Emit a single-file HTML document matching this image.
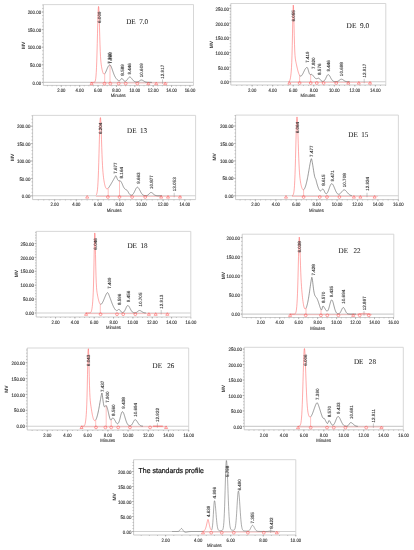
<!DOCTYPE html>
<html><head><meta charset="utf-8"><style>
html,body{margin:0;padding:0;background:#fff;}
body{width:414px;height:550px;overflow:hidden;}
svg{display:block;filter:blur(0.3px);text-rendering:geometricPrecision;}
.tk{font-family:"Liberation Sans", sans-serif;font-size:5.0px;fill:#333;stroke:#333;stroke-width:0.13px;}
.mv{font-family:"Liberation Sans", sans-serif;font-size:4.8px;fill:#3a3a3a;font-weight:bold;}
.mn{font-family:"Liberation Sans", sans-serif;font-size:4.8px;fill:#333;stroke:#333;stroke-width:0.1px;}
.pl{font-family:"Liberation Sans", sans-serif;font-size:4.55px;fill:#2a2a2a;stroke:#2a2a2a;stroke-width:0.1px;}
.de{font-family:"Liberation Serif", serif;fill:#1a1a1a;stroke:#1a1a1a;stroke-width:0.05px;}
.sp{font-family:"Liberation Sans", sans-serif;fill:#111;stroke:#111;stroke-width:0.2px;}
</style></head><body>
<svg xmlns="http://www.w3.org/2000/svg" width="414" height="550" viewBox="0 0 414 550">
<rect width="414" height="550" fill="#fff"/>
<path d="M43.3,4.6 L193.5,4.6 L193.5,85.4" fill="none" stroke="#d2d2d2" stroke-width="0.9"/>
<path d="M43.3,4.6 L43.3,85.4 L193.5,85.4" fill="none" stroke="#bdbdbd" stroke-width="0.8"/>
<line x1="43.3" y1="82.4" x2="193.5" y2="82.4" stroke="#d0d0d0" stroke-width="1.1"/>
<line x1="41.699999999999996" y1="82.40" x2="43.3" y2="82.40" stroke="#999" stroke-width="0.6"/>
<text transform="translate(41.10,84.50) scale(0.88,1)" text-anchor="end" class="tk">0.00</text>
<line x1="41.699999999999996" y1="64.80" x2="43.3" y2="64.80" stroke="#999" stroke-width="0.6"/>
<text transform="translate(41.10,66.90) scale(0.88,1)" text-anchor="end" class="tk">50.00</text>
<line x1="41.699999999999996" y1="47.20" x2="43.3" y2="47.20" stroke="#999" stroke-width="0.6"/>
<text transform="translate(41.10,49.30) scale(0.88,1)" text-anchor="end" class="tk">100.00</text>
<line x1="41.699999999999996" y1="29.60" x2="43.3" y2="29.60" stroke="#999" stroke-width="0.6"/>
<text transform="translate(41.10,31.70) scale(0.88,1)" text-anchor="end" class="tk">150.00</text>
<line x1="41.699999999999996" y1="12.00" x2="43.3" y2="12.00" stroke="#999" stroke-width="0.6"/>
<text transform="translate(41.10,14.10) scale(0.88,1)" text-anchor="end" class="tk">200.00</text>
<line x1="42.199999999999996" y1="82.40" x2="43.3" y2="82.40" stroke="#999" stroke-width="0.55"/>
<line x1="42.199999999999996" y1="78.88" x2="43.3" y2="78.88" stroke="#999" stroke-width="0.55"/>
<line x1="42.199999999999996" y1="75.36" x2="43.3" y2="75.36" stroke="#999" stroke-width="0.55"/>
<line x1="42.199999999999996" y1="71.84" x2="43.3" y2="71.84" stroke="#999" stroke-width="0.55"/>
<line x1="42.199999999999996" y1="68.32" x2="43.3" y2="68.32" stroke="#999" stroke-width="0.55"/>
<line x1="42.199999999999996" y1="64.80" x2="43.3" y2="64.80" stroke="#999" stroke-width="0.55"/>
<line x1="42.199999999999996" y1="61.28" x2="43.3" y2="61.28" stroke="#999" stroke-width="0.55"/>
<line x1="42.199999999999996" y1="57.76" x2="43.3" y2="57.76" stroke="#999" stroke-width="0.55"/>
<line x1="42.199999999999996" y1="54.24" x2="43.3" y2="54.24" stroke="#999" stroke-width="0.55"/>
<line x1="42.199999999999996" y1="50.72" x2="43.3" y2="50.72" stroke="#999" stroke-width="0.55"/>
<line x1="42.199999999999996" y1="47.20" x2="43.3" y2="47.20" stroke="#999" stroke-width="0.55"/>
<line x1="42.199999999999996" y1="43.68" x2="43.3" y2="43.68" stroke="#999" stroke-width="0.55"/>
<line x1="42.199999999999996" y1="40.16" x2="43.3" y2="40.16" stroke="#999" stroke-width="0.55"/>
<line x1="42.199999999999996" y1="36.64" x2="43.3" y2="36.64" stroke="#999" stroke-width="0.55"/>
<line x1="42.199999999999996" y1="33.12" x2="43.3" y2="33.12" stroke="#999" stroke-width="0.55"/>
<line x1="42.199999999999996" y1="29.60" x2="43.3" y2="29.60" stroke="#999" stroke-width="0.55"/>
<line x1="42.199999999999996" y1="26.08" x2="43.3" y2="26.08" stroke="#999" stroke-width="0.55"/>
<line x1="42.199999999999996" y1="22.56" x2="43.3" y2="22.56" stroke="#999" stroke-width="0.55"/>
<line x1="42.199999999999996" y1="19.04" x2="43.3" y2="19.04" stroke="#999" stroke-width="0.55"/>
<line x1="42.199999999999996" y1="15.52" x2="43.3" y2="15.52" stroke="#999" stroke-width="0.55"/>
<line x1="42.199999999999996" y1="12.00" x2="43.3" y2="12.00" stroke="#999" stroke-width="0.55"/>
<line x1="42.199999999999996" y1="8.48" x2="43.3" y2="8.48" stroke="#999" stroke-width="0.55"/>
<line x1="42.199999999999996" y1="4.96" x2="43.3" y2="4.96" stroke="#999" stroke-width="0.55"/>
<line x1="61.28" y1="85.4" x2="61.28" y2="87.0" stroke="#999" stroke-width="0.6"/>
<text transform="translate(61.28,92.20) scale(0.85,1)" text-anchor="middle" class="tk">2.00</text>
<line x1="79.66" y1="85.4" x2="79.66" y2="87.0" stroke="#999" stroke-width="0.6"/>
<text transform="translate(79.66,92.20) scale(0.85,1)" text-anchor="middle" class="tk">4.00</text>
<line x1="98.04" y1="85.4" x2="98.04" y2="87.0" stroke="#999" stroke-width="0.6"/>
<text transform="translate(98.04,92.20) scale(0.85,1)" text-anchor="middle" class="tk">6.00</text>
<line x1="116.42" y1="85.4" x2="116.42" y2="87.0" stroke="#999" stroke-width="0.6"/>
<text transform="translate(116.42,92.20) scale(0.85,1)" text-anchor="middle" class="tk">8.00</text>
<line x1="134.80" y1="85.4" x2="134.80" y2="87.0" stroke="#999" stroke-width="0.6"/>
<text transform="translate(134.80,92.20) scale(0.85,1)" text-anchor="middle" class="tk">10.00</text>
<line x1="153.18" y1="85.4" x2="153.18" y2="87.0" stroke="#999" stroke-width="0.6"/>
<text transform="translate(153.18,92.20) scale(0.85,1)" text-anchor="middle" class="tk">12.00</text>
<line x1="171.56" y1="85.4" x2="171.56" y2="87.0" stroke="#999" stroke-width="0.6"/>
<text transform="translate(171.56,92.20) scale(0.85,1)" text-anchor="middle" class="tk">14.00</text>
<line x1="189.94" y1="85.4" x2="189.94" y2="87.0" stroke="#999" stroke-width="0.6"/>
<text transform="translate(189.94,92.20) scale(0.85,1)" text-anchor="middle" class="tk">16.00</text>
<line x1="47.49" y1="85.4" x2="47.49" y2="86.30000000000001" stroke="#999" stroke-width="0.55"/>
<line x1="52.09" y1="85.4" x2="52.09" y2="86.30000000000001" stroke="#999" stroke-width="0.55"/>
<line x1="56.69" y1="85.4" x2="56.69" y2="86.30000000000001" stroke="#999" stroke-width="0.55"/>
<line x1="61.28" y1="85.4" x2="61.28" y2="86.30000000000001" stroke="#999" stroke-width="0.55"/>
<line x1="65.88" y1="85.4" x2="65.88" y2="86.30000000000001" stroke="#999" stroke-width="0.55"/>
<line x1="70.47" y1="85.4" x2="70.47" y2="86.30000000000001" stroke="#999" stroke-width="0.55"/>
<line x1="75.06" y1="85.4" x2="75.06" y2="86.30000000000001" stroke="#999" stroke-width="0.55"/>
<line x1="79.66" y1="85.4" x2="79.66" y2="86.30000000000001" stroke="#999" stroke-width="0.55"/>
<line x1="84.25" y1="85.4" x2="84.25" y2="86.30000000000001" stroke="#999" stroke-width="0.55"/>
<line x1="88.85" y1="85.4" x2="88.85" y2="86.30000000000001" stroke="#999" stroke-width="0.55"/>
<line x1="93.44" y1="85.4" x2="93.44" y2="86.30000000000001" stroke="#999" stroke-width="0.55"/>
<line x1="98.04" y1="85.4" x2="98.04" y2="86.30000000000001" stroke="#999" stroke-width="0.55"/>
<line x1="102.63" y1="85.4" x2="102.63" y2="86.30000000000001" stroke="#999" stroke-width="0.55"/>
<line x1="107.23" y1="85.4" x2="107.23" y2="86.30000000000001" stroke="#999" stroke-width="0.55"/>
<line x1="111.82" y1="85.4" x2="111.82" y2="86.30000000000001" stroke="#999" stroke-width="0.55"/>
<line x1="116.42" y1="85.4" x2="116.42" y2="86.30000000000001" stroke="#999" stroke-width="0.55"/>
<line x1="121.01" y1="85.4" x2="121.01" y2="86.30000000000001" stroke="#999" stroke-width="0.55"/>
<line x1="125.61" y1="85.4" x2="125.61" y2="86.30000000000001" stroke="#999" stroke-width="0.55"/>
<line x1="130.20" y1="85.4" x2="130.20" y2="86.30000000000001" stroke="#999" stroke-width="0.55"/>
<line x1="134.80" y1="85.4" x2="134.80" y2="86.30000000000001" stroke="#999" stroke-width="0.55"/>
<line x1="139.39" y1="85.4" x2="139.39" y2="86.30000000000001" stroke="#999" stroke-width="0.55"/>
<line x1="143.99" y1="85.4" x2="143.99" y2="86.30000000000001" stroke="#999" stroke-width="0.55"/>
<line x1="148.58" y1="85.4" x2="148.58" y2="86.30000000000001" stroke="#999" stroke-width="0.55"/>
<line x1="153.18" y1="85.4" x2="153.18" y2="86.30000000000001" stroke="#999" stroke-width="0.55"/>
<line x1="157.78" y1="85.4" x2="157.78" y2="86.30000000000001" stroke="#999" stroke-width="0.55"/>
<line x1="162.37" y1="85.4" x2="162.37" y2="86.30000000000001" stroke="#999" stroke-width="0.55"/>
<line x1="166.97" y1="85.4" x2="166.97" y2="86.30000000000001" stroke="#999" stroke-width="0.55"/>
<line x1="171.56" y1="85.4" x2="171.56" y2="86.30000000000001" stroke="#999" stroke-width="0.55"/>
<line x1="176.16" y1="85.4" x2="176.16" y2="86.30000000000001" stroke="#999" stroke-width="0.55"/>
<line x1="180.75" y1="85.4" x2="180.75" y2="86.30000000000001" stroke="#999" stroke-width="0.55"/>
<line x1="185.34" y1="85.4" x2="185.34" y2="86.30000000000001" stroke="#999" stroke-width="0.55"/>
<line x1="189.94" y1="85.4" x2="189.94" y2="86.30000000000001" stroke="#999" stroke-width="0.55"/>
<text transform="translate(25.0,45.5) rotate(-90)" text-anchor="middle" class="mv">MV</text>
<text transform="translate(118.2,97.2) scale(0.88,1)" text-anchor="middle" class="mn">Minutes</text>
<line x1="90.5" y1="83.0" x2="168" y2="83.0" stroke="#f88" stroke-width="0.45"/>
<line x1="104.7" y1="73.80" x2="104.7" y2="83.4" stroke="#f77" stroke-width="0.45"/>
<line x1="110.0" y1="64.93" x2="110.0" y2="83.4" stroke="#f77" stroke-width="0.45"/>
<line x1="162.5" y1="79.4" x2="162.5" y2="83.9" stroke="#888" stroke-width="0.45"/>
<path d="M104.70,73.80 L104.95,73.50 L105.20,73.11 L105.45,72.66 L105.70,72.15 L105.95,71.60 L106.20,71.01 L106.45,70.41 L106.70,69.79 L106.95,69.18 L107.20,68.58 L107.45,68.00 L107.70,67.45 L107.95,66.94 L108.20,66.47 L108.45,66.06 L108.70,65.70 L108.95,65.40 L109.20,65.16 L109.45,64.99 L109.70,64.89 L109.95,64.91 L110.20,65.05 L110.45,65.30 L110.70,65.65 L110.95,66.10 L111.20,66.63 L111.45,67.24 L111.70,67.89 L111.95,68.59 L112.20,69.32 L112.45,70.07 L112.70,70.82 L112.95,71.56 L113.20,72.29 L113.45,72.99 L113.70,73.67 L113.95,74.31 L114.20,74.92 L114.45,75.49 L114.70,76.03 L114.95,76.53 L115.20,76.99 L115.45,77.42 L115.70,77.82 L115.95,78.18 L116.20,78.52 L116.45,78.84 L116.70,79.13 L116.95,79.40 L117.20,79.65 L117.45,79.88 L117.70,80.09 L117.95,80.28 L118.20,80.46 L118.45,80.61 L118.70,80.73 L118.95,80.82 L119.20,80.86 L119.45,80.84 L119.70,80.74 L119.95,80.56 L120.20,80.30 L120.45,79.96 L120.70,79.57 L120.95,79.17 L121.20,78.82 L121.45,78.56 L121.70,78.44 L121.95,78.47 L122.20,78.60 L122.45,78.81 L122.70,79.10 L122.95,79.43 L123.20,79.79 L123.45,80.13 L123.70,80.46 L123.95,80.74 L124.20,80.96 L124.45,81.13 L124.70,81.24 L124.95,81.30 L125.20,81.30 L125.45,81.25 L125.70,81.16 L125.95,81.02 L126.20,80.83 L126.45,80.61 L126.70,80.35 L126.95,80.06 L127.20,79.73 L127.45,79.39 L127.70,79.03 L127.95,78.66 L128.20,78.30 L128.45,77.97 L128.70,77.66 L128.95,77.40 L129.20,77.20 L129.45,77.07 L129.70,77.00 L129.95,77.01 L130.20,77.09 L130.45,77.22 L130.70,77.41 L130.95,77.65 L131.20,77.92 L131.45,78.23 L131.70,78.56 L131.95,78.90 L132.20,79.24 L132.45,79.58 L132.70,79.90 L132.95,80.20 L133.20,80.48 L133.45,80.73 L133.70,80.96 L133.95,81.16 L134.20,81.33 L134.45,81.47 L134.70,81.59 L134.95,81.69 L135.20,81.78 L135.45,81.84 L135.70,81.89 L135.95,81.93 L136.20,81.95 L136.45,81.96 L136.70,81.96 L136.95,81.95 L137.20,81.93 L137.45,81.89 L137.70,81.83 L137.95,81.76 L138.20,81.66 L138.45,81.55 L138.70,81.42 L138.95,81.27 L139.20,81.10 L139.45,80.93 L139.70,80.75 L139.95,80.58 L140.20,80.41 L140.45,80.26 L140.70,80.14 L140.95,80.06 L141.20,80.01 L141.45,80.00 L141.70,80.03 L141.95,80.09 L142.20,80.17 L142.45,80.27 L142.70,80.39 L142.95,80.53 L143.20,80.68 L143.45,80.84 L143.70,80.99 L143.95,81.15 L144.20,81.30 L144.45,81.45 L144.70,81.58 L144.95,81.70 L145.20,81.81 L145.45,81.90 L145.70,81.99 L145.95,82.06 L146.20,82.12 L146.45,82.17 L146.70,82.21 L146.95,82.24 L147.20,82.27 L147.45,82.29 L147.70,82.31 L147.95,82.32 L148.20,82.33 L148.45,82.34 L148.70,82.35 L148.95,82.35 L149.20,82.36 L149.45,82.36 L149.70,82.36 L149.95,82.37 L150.20,82.37 L150.45,82.37 L150.70,82.37 L150.95,82.37 L151.20,82.38 L151.45,82.38 L151.70,82.38 L151.95,82.38" fill="none" stroke="#555" stroke-width="0.6"/>
<path d="M90.50,82.40 L90.75,82.40 L91.00,82.40 L91.25,82.40 L91.50,82.40 L91.75,82.40 L92.00,82.40 L92.25,82.40 L92.50,82.40 L92.75,82.40 L93.00,82.40 L93.25,82.39 L93.50,82.39 L93.75,82.37 L94.00,82.34 L94.25,82.29 L94.50,82.18 L94.75,81.97 L95.00,81.62 L95.25,81.01 L95.50,80.01 L95.75,78.43 L96.00,76.02 L96.25,72.50 L96.50,67.59 L96.75,61.09 L97.00,52.97 L97.25,43.50 L97.50,33.30 L97.75,23.33 L98.00,14.82 L98.25,8.98 L98.50,6.44 L98.75,7.17 L99.00,11.64 L99.25,18.99 L99.50,27.87 L99.75,36.84 L100.00,44.85 L100.25,51.37 L100.50,56.34 L100.75,60.00 L101.00,62.72 L101.25,64.80 L101.50,66.50 L101.75,67.95 L102.00,69.22 L102.25,70.33 L102.50,71.31 L102.75,72.14 L103.00,72.82 L103.25,73.36 L103.50,73.75 L103.75,74.00 L104.00,74.11 L104.25,74.10 L104.50,73.98" fill="none" stroke="#f55" stroke-width="0.5"/>
<path d="M90.10,84.70 L91.60,82.10 L93.10,84.70 Z" fill="none" stroke="#f55" stroke-width="0.55"/>
<circle cx="104.5" cy="83.60" r="1.4" fill="none" stroke="#f55" stroke-width="0.55"/>
<circle cx="110.3" cy="83.60" r="1.4" fill="none" stroke="#f55" stroke-width="0.55"/>
<circle cx="118.7" cy="83.60" r="1.4" fill="none" stroke="#f55" stroke-width="0.55"/>
<circle cx="125.7" cy="83.60" r="1.4" fill="none" stroke="#f55" stroke-width="0.55"/>
<circle cx="137.3" cy="83.60" r="1.4" fill="none" stroke="#f55" stroke-width="0.55"/>
<path d="M146.80,84.70 L148.30,82.10 L149.80,84.70 Z" fill="none" stroke="#f55" stroke-width="0.55"/>
<path d="M154.70,84.70 L156.20,82.10 L157.70,84.70 Z" fill="none" stroke="#f55" stroke-width="0.55"/>
<path d="M163.70,84.70 L165.20,82.10 L166.70,84.70 Z" fill="none" stroke="#f55" stroke-width="0.55"/>
<text transform="translate(100.50,17.25) rotate(-90)" text-anchor="middle" class="pl">6.009</text>
<text transform="translate(111.80,58.00) rotate(-90)" text-anchor="middle" class="pl">7.360</text>
<text transform="translate(111.30,58.10) rotate(-90)" text-anchor="middle" class="pl">7.300</text>
<text transform="translate(123.80,69.95) rotate(-90)" text-anchor="middle" class="pl">8.589</text>
<text transform="translate(131.40,68.80) rotate(-90)" text-anchor="middle" class="pl">9.446</text>
<text transform="translate(143.20,70.25) rotate(-90)" text-anchor="middle" class="pl">10.609</text>
<text transform="translate(164.20,71.75) rotate(-90)" text-anchor="middle" class="pl">12.917</text>
<text x="126.2" y="24.1" class="de" style="font-size:7.4px" textLength="22.0" lengthAdjust="spacingAndGlyphs">DE&#160;&#160;7.0</text>
<path d="M230.8,3.5 L385.8,3.5 L385.8,85.0" fill="none" stroke="#d2d2d2" stroke-width="0.9"/>
<path d="M230.8,3.5 L230.8,85.0 L385.8,85.0" fill="none" stroke="#bdbdbd" stroke-width="0.8"/>
<line x1="230.8" y1="81.8" x2="385.8" y2="81.8" stroke="#d0d0d0" stroke-width="1.1"/>
<line x1="229.20000000000002" y1="81.80" x2="230.8" y2="81.80" stroke="#999" stroke-width="0.6"/>
<text transform="translate(229.00,84.30) scale(0.88,1)" text-anchor="end" class="tk">0.00</text>
<line x1="229.20000000000002" y1="67.12" x2="230.8" y2="67.12" stroke="#999" stroke-width="0.6"/>
<text transform="translate(229.00,69.62) scale(0.88,1)" text-anchor="end" class="tk">50.00</text>
<line x1="229.20000000000002" y1="52.44" x2="230.8" y2="52.44" stroke="#999" stroke-width="0.6"/>
<text transform="translate(229.00,54.94) scale(0.88,1)" text-anchor="end" class="tk">100.00</text>
<line x1="229.20000000000002" y1="37.76" x2="230.8" y2="37.76" stroke="#999" stroke-width="0.6"/>
<text transform="translate(229.00,40.26) scale(0.88,1)" text-anchor="end" class="tk">150.00</text>
<line x1="229.20000000000002" y1="23.08" x2="230.8" y2="23.08" stroke="#999" stroke-width="0.6"/>
<text transform="translate(229.00,25.58) scale(0.88,1)" text-anchor="end" class="tk">200.00</text>
<line x1="229.20000000000002" y1="8.40" x2="230.8" y2="8.40" stroke="#999" stroke-width="0.6"/>
<text transform="translate(229.00,10.90) scale(0.88,1)" text-anchor="end" class="tk">250.00</text>
<line x1="229.70000000000002" y1="81.80" x2="230.8" y2="81.80" stroke="#999" stroke-width="0.55"/>
<line x1="229.70000000000002" y1="78.86" x2="230.8" y2="78.86" stroke="#999" stroke-width="0.55"/>
<line x1="229.70000000000002" y1="75.93" x2="230.8" y2="75.93" stroke="#999" stroke-width="0.55"/>
<line x1="229.70000000000002" y1="72.99" x2="230.8" y2="72.99" stroke="#999" stroke-width="0.55"/>
<line x1="229.70000000000002" y1="70.06" x2="230.8" y2="70.06" stroke="#999" stroke-width="0.55"/>
<line x1="229.70000000000002" y1="67.12" x2="230.8" y2="67.12" stroke="#999" stroke-width="0.55"/>
<line x1="229.70000000000002" y1="64.18" x2="230.8" y2="64.18" stroke="#999" stroke-width="0.55"/>
<line x1="229.70000000000002" y1="61.25" x2="230.8" y2="61.25" stroke="#999" stroke-width="0.55"/>
<line x1="229.70000000000002" y1="58.31" x2="230.8" y2="58.31" stroke="#999" stroke-width="0.55"/>
<line x1="229.70000000000002" y1="55.38" x2="230.8" y2="55.38" stroke="#999" stroke-width="0.55"/>
<line x1="229.70000000000002" y1="52.44" x2="230.8" y2="52.44" stroke="#999" stroke-width="0.55"/>
<line x1="229.70000000000002" y1="49.50" x2="230.8" y2="49.50" stroke="#999" stroke-width="0.55"/>
<line x1="229.70000000000002" y1="46.57" x2="230.8" y2="46.57" stroke="#999" stroke-width="0.55"/>
<line x1="229.70000000000002" y1="43.63" x2="230.8" y2="43.63" stroke="#999" stroke-width="0.55"/>
<line x1="229.70000000000002" y1="40.70" x2="230.8" y2="40.70" stroke="#999" stroke-width="0.55"/>
<line x1="229.70000000000002" y1="37.76" x2="230.8" y2="37.76" stroke="#999" stroke-width="0.55"/>
<line x1="229.70000000000002" y1="34.82" x2="230.8" y2="34.82" stroke="#999" stroke-width="0.55"/>
<line x1="229.70000000000002" y1="31.89" x2="230.8" y2="31.89" stroke="#999" stroke-width="0.55"/>
<line x1="229.70000000000002" y1="28.95" x2="230.8" y2="28.95" stroke="#999" stroke-width="0.55"/>
<line x1="229.70000000000002" y1="26.02" x2="230.8" y2="26.02" stroke="#999" stroke-width="0.55"/>
<line x1="229.70000000000002" y1="23.08" x2="230.8" y2="23.08" stroke="#999" stroke-width="0.55"/>
<line x1="229.70000000000002" y1="20.14" x2="230.8" y2="20.14" stroke="#999" stroke-width="0.55"/>
<line x1="229.70000000000002" y1="17.21" x2="230.8" y2="17.21" stroke="#999" stroke-width="0.55"/>
<line x1="229.70000000000002" y1="14.27" x2="230.8" y2="14.27" stroke="#999" stroke-width="0.55"/>
<line x1="229.70000000000002" y1="11.34" x2="230.8" y2="11.34" stroke="#999" stroke-width="0.55"/>
<line x1="229.70000000000002" y1="8.40" x2="230.8" y2="8.40" stroke="#999" stroke-width="0.55"/>
<line x1="229.70000000000002" y1="5.46" x2="230.8" y2="5.46" stroke="#999" stroke-width="0.55"/>
<line x1="252.14" y1="85.0" x2="252.14" y2="86.6" stroke="#999" stroke-width="0.6"/>
<text transform="translate(252.14,91.80) scale(0.85,1)" text-anchor="middle" class="tk">2.00</text>
<line x1="272.68" y1="85.0" x2="272.68" y2="86.6" stroke="#999" stroke-width="0.6"/>
<text transform="translate(272.68,91.80) scale(0.85,1)" text-anchor="middle" class="tk">4.00</text>
<line x1="293.22" y1="85.0" x2="293.22" y2="86.6" stroke="#999" stroke-width="0.6"/>
<text transform="translate(293.22,91.80) scale(0.85,1)" text-anchor="middle" class="tk">6.00</text>
<line x1="313.76" y1="85.0" x2="313.76" y2="86.6" stroke="#999" stroke-width="0.6"/>
<text transform="translate(313.76,91.80) scale(0.85,1)" text-anchor="middle" class="tk">8.00</text>
<line x1="334.30" y1="85.0" x2="334.30" y2="86.6" stroke="#999" stroke-width="0.6"/>
<text transform="translate(334.30,91.80) scale(0.85,1)" text-anchor="middle" class="tk">10.00</text>
<line x1="354.84" y1="85.0" x2="354.84" y2="86.6" stroke="#999" stroke-width="0.6"/>
<text transform="translate(354.84,91.80) scale(0.85,1)" text-anchor="middle" class="tk">12.00</text>
<line x1="375.38" y1="85.0" x2="375.38" y2="86.6" stroke="#999" stroke-width="0.6"/>
<text transform="translate(375.38,91.80) scale(0.85,1)" text-anchor="middle" class="tk">14.00</text>
<line x1="236.73" y1="85.0" x2="236.73" y2="85.9" stroke="#999" stroke-width="0.55"/>
<line x1="241.87" y1="85.0" x2="241.87" y2="85.9" stroke="#999" stroke-width="0.55"/>
<line x1="247.00" y1="85.0" x2="247.00" y2="85.9" stroke="#999" stroke-width="0.55"/>
<line x1="252.14" y1="85.0" x2="252.14" y2="85.9" stroke="#999" stroke-width="0.55"/>
<line x1="257.27" y1="85.0" x2="257.27" y2="85.9" stroke="#999" stroke-width="0.55"/>
<line x1="262.41" y1="85.0" x2="262.41" y2="85.9" stroke="#999" stroke-width="0.55"/>
<line x1="267.55" y1="85.0" x2="267.55" y2="85.9" stroke="#999" stroke-width="0.55"/>
<line x1="272.68" y1="85.0" x2="272.68" y2="85.9" stroke="#999" stroke-width="0.55"/>
<line x1="277.81" y1="85.0" x2="277.81" y2="85.9" stroke="#999" stroke-width="0.55"/>
<line x1="282.95" y1="85.0" x2="282.95" y2="85.9" stroke="#999" stroke-width="0.55"/>
<line x1="288.08" y1="85.0" x2="288.08" y2="85.9" stroke="#999" stroke-width="0.55"/>
<line x1="293.22" y1="85.0" x2="293.22" y2="85.9" stroke="#999" stroke-width="0.55"/>
<line x1="298.36" y1="85.0" x2="298.36" y2="85.9" stroke="#999" stroke-width="0.55"/>
<line x1="303.49" y1="85.0" x2="303.49" y2="85.9" stroke="#999" stroke-width="0.55"/>
<line x1="308.62" y1="85.0" x2="308.62" y2="85.9" stroke="#999" stroke-width="0.55"/>
<line x1="313.76" y1="85.0" x2="313.76" y2="85.9" stroke="#999" stroke-width="0.55"/>
<line x1="318.89" y1="85.0" x2="318.89" y2="85.9" stroke="#999" stroke-width="0.55"/>
<line x1="324.03" y1="85.0" x2="324.03" y2="85.9" stroke="#999" stroke-width="0.55"/>
<line x1="329.16" y1="85.0" x2="329.16" y2="85.9" stroke="#999" stroke-width="0.55"/>
<line x1="334.30" y1="85.0" x2="334.30" y2="85.9" stroke="#999" stroke-width="0.55"/>
<line x1="339.44" y1="85.0" x2="339.44" y2="85.9" stroke="#999" stroke-width="0.55"/>
<line x1="344.57" y1="85.0" x2="344.57" y2="85.9" stroke="#999" stroke-width="0.55"/>
<line x1="349.70" y1="85.0" x2="349.70" y2="85.9" stroke="#999" stroke-width="0.55"/>
<line x1="354.84" y1="85.0" x2="354.84" y2="85.9" stroke="#999" stroke-width="0.55"/>
<line x1="359.98" y1="85.0" x2="359.98" y2="85.9" stroke="#999" stroke-width="0.55"/>
<line x1="365.11" y1="85.0" x2="365.11" y2="85.9" stroke="#999" stroke-width="0.55"/>
<line x1="370.25" y1="85.0" x2="370.25" y2="85.9" stroke="#999" stroke-width="0.55"/>
<line x1="375.38" y1="85.0" x2="375.38" y2="85.9" stroke="#999" stroke-width="0.55"/>
<line x1="380.51" y1="85.0" x2="380.51" y2="85.9" stroke="#999" stroke-width="0.55"/>
<line x1="385.65" y1="85.0" x2="385.65" y2="85.9" stroke="#999" stroke-width="0.55"/>
<text transform="translate(212.7,44.7) rotate(-90)" text-anchor="middle" class="mv">MV</text>
<text transform="translate(308.0,97.2) scale(0.88,1)" text-anchor="middle" class="mn">Minutes</text>
<line x1="288.5" y1="82.39999999999999" x2="372" y2="82.39999999999999" stroke="#f88" stroke-width="0.45"/>
<line x1="299.6" y1="75.31" x2="299.6" y2="82.8" stroke="#f77" stroke-width="0.45"/>
<line x1="310.7" y1="74.53" x2="310.7" y2="82.8" stroke="#f77" stroke-width="0.45"/>
<line x1="364.2" y1="78.8" x2="364.2" y2="83.3" stroke="#888" stroke-width="0.45"/>
<path d="M299.60,75.31 L299.85,75.63 L300.10,75.87 L300.35,76.02 L300.60,76.09 L300.85,76.08 L301.10,75.99 L301.35,75.83 L301.60,75.60 L301.85,75.32 L302.10,74.98 L302.35,74.59 L302.60,74.16 L302.85,73.70 L303.10,73.21 L303.35,72.70 L303.60,72.18 L303.85,71.65 L304.10,71.12 L304.35,70.61 L304.60,70.11 L304.85,69.64 L305.10,69.20 L305.35,68.80 L305.60,68.45 L305.85,68.14 L306.10,67.88 L306.35,67.68 L306.60,67.53 L306.85,67.44 L307.10,67.42 L307.35,67.62 L307.60,68.05 L307.85,68.68 L308.10,69.46 L308.35,70.33 L308.60,71.23 L308.85,72.10 L309.10,72.89 L309.35,73.54 L309.60,74.04 L309.85,74.37 L310.10,74.55 L310.35,74.61 L310.60,74.57 L310.85,74.48 L311.10,74.40 L311.35,74.36 L311.60,74.40 L311.85,74.51 L312.10,74.65 L312.35,74.84 L312.60,75.08 L312.85,75.35 L313.10,75.66 L313.35,75.99 L313.60,76.33 L313.85,76.67 L314.10,77.00 L314.35,77.31 L314.60,77.60 L314.85,77.86 L315.10,78.09 L315.35,78.28 L315.60,78.44 L315.85,78.57 L316.10,78.66 L316.35,78.71 L316.60,78.72 L316.85,78.70 L317.10,78.64 L317.35,78.55 L317.60,78.44 L317.85,78.34 L318.10,78.24 L318.35,78.18 L318.60,78.16 L318.85,78.21 L319.10,78.33 L319.35,78.53 L319.60,78.78 L319.85,79.09 L320.10,79.42 L320.35,79.76 L320.60,80.09 L320.85,80.39 L321.10,80.65 L321.35,80.88 L321.60,81.06 L321.85,81.20 L322.10,81.30 L322.35,81.36 L322.60,81.39 L322.85,81.39 L323.10,81.36 L323.35,81.29 L323.60,81.18 L323.85,81.04 L324.10,80.85 L324.35,80.62 L324.60,80.33 L324.85,80.00 L325.10,79.61 L325.35,79.17 L325.60,78.69 L325.85,78.18 L326.10,77.64 L326.35,77.10 L326.60,76.57 L326.85,76.06 L327.10,75.61 L327.35,75.22 L327.60,74.92 L327.85,74.71 L328.10,74.61 L328.35,74.61 L328.60,74.71 L328.85,74.88 L329.10,75.13 L329.35,75.45 L329.60,75.82 L329.85,76.23 L330.10,76.68 L330.35,77.15 L330.60,77.62 L330.85,78.09 L331.10,78.55 L331.35,78.98 L331.60,79.39 L331.85,79.76 L332.10,80.09 L332.35,80.39 L332.60,80.64 L332.85,80.87 L333.10,81.06 L333.35,81.21 L333.60,81.34 L333.85,81.45 L334.10,81.53 L334.35,81.59 L334.60,81.64 L334.85,81.68 L335.10,81.70 L335.35,81.72 L335.60,81.72 L335.85,81.72 L336.10,81.70 L336.35,81.68 L336.60,81.64 L336.85,81.60 L337.10,81.54 L337.35,81.46 L337.60,81.37 L337.85,81.26 L338.10,81.13 L338.35,80.99 L338.60,80.82 L338.85,80.65 L339.10,80.46 L339.35,80.26 L339.60,80.07 L339.85,79.87 L340.10,79.70 L340.35,79.53 L340.60,79.40 L340.85,79.30 L341.10,79.23 L341.35,79.20 L341.60,79.21 L341.85,79.25 L342.10,79.33 L342.35,79.43 L342.60,79.56 L342.85,79.71 L343.10,79.87 L343.35,80.04 L343.60,80.22 L343.85,80.40 L344.10,80.58 L344.35,80.74 L344.60,80.90 L344.85,81.04 L345.10,81.17 L345.35,81.28 L345.60,81.38 L345.85,81.46 L346.10,81.53 L346.35,81.59 L346.60,81.64 L346.85,81.68 L347.10,81.71 L347.35,81.73 L347.60,81.75 L347.85,81.76 L348.10,81.77 L348.35,81.78 L348.60,81.79 L348.85,81.79 L349.10,81.79 L349.35,81.80 L349.60,81.80 L349.85,81.80" fill="none" stroke="#555" stroke-width="0.6"/>
<path d="M288.50,81.70 L288.75,81.63 L289.00,81.50 L289.25,81.30 L289.50,80.98 L289.75,80.51 L290.00,79.83 L290.25,78.89 L290.50,77.62 L290.75,75.96 L291.00,73.84 L291.25,71.11 L291.50,67.47 L291.75,62.40 L292.00,55.19 L292.25,45.33 L292.50,33.11 L292.75,20.29 L293.00,9.90 L293.25,5.12 L293.50,6.98 L293.75,14.20 L294.00,24.53 L294.25,35.27 L294.50,44.37 L294.75,51.00 L295.00,55.35 L295.25,58.09 L295.50,59.90 L295.75,61.28 L296.00,62.49 L296.25,63.66 L296.50,64.81 L296.75,65.95 L297.00,67.08 L297.25,68.17 L297.50,69.23 L297.75,70.23 L298.00,71.16 L298.25,72.03 L298.50,72.83 L298.75,73.54 L299.00,74.16 L299.25,74.70 L299.50,75.15" fill="none" stroke="#f55" stroke-width="0.5"/>
<path d="M287.90,84.10 L289.40,81.50 L290.90,84.10 Z" fill="none" stroke="#f55" stroke-width="0.55"/>
<circle cx="299.6" cy="83.00" r="1.4" fill="none" stroke="#f55" stroke-width="0.55"/>
<circle cx="310.7" cy="83.00" r="1.4" fill="none" stroke="#f55" stroke-width="0.55"/>
<circle cx="316.8" cy="83.00" r="1.4" fill="none" stroke="#f55" stroke-width="0.55"/>
<circle cx="323.6" cy="83.00" r="1.4" fill="none" stroke="#f55" stroke-width="0.55"/>
<circle cx="336.2" cy="83.00" r="1.4" fill="none" stroke="#f55" stroke-width="0.55"/>
<path d="M346.80,84.10 L348.30,81.50 L349.80,84.10 Z" fill="none" stroke="#f55" stroke-width="0.55"/>
<path d="M357.30,84.10 L358.80,81.50 L360.30,84.10 Z" fill="none" stroke="#f55" stroke-width="0.55"/>
<path d="M368.50,84.10 L370.00,81.50 L371.50,84.10 Z" fill="none" stroke="#f55" stroke-width="0.55"/>
<text transform="translate(295.40,15.85) rotate(-90)" text-anchor="middle" class="pl">6.055</text>
<text transform="translate(308.80,57.05) rotate(-90)" text-anchor="middle" class="pl">7.419</text>
<text transform="translate(314.60,63.20) rotate(-90)" text-anchor="middle" class="pl">7.820</text>
<text transform="translate(320.80,69.25) rotate(-90)" text-anchor="middle" class="pl">8.576</text>
<text transform="translate(330.40,65.85) rotate(-90)" text-anchor="middle" class="pl">9.446</text>
<text transform="translate(343.40,69.20) rotate(-90)" text-anchor="middle" class="pl">10.698</text>
<text transform="translate(366.20,70.65) rotate(-90)" text-anchor="middle" class="pl">12.917</text>
<text x="346.6" y="28.2" class="de" style="font-size:7.4px" textLength="22.6" lengthAdjust="spacingAndGlyphs">DE&#160;&#160;9.0</text>
<path d="M32.6,115.4 L195.6,115.4 L195.6,199.6" fill="none" stroke="#d2d2d2" stroke-width="0.9"/>
<path d="M32.6,115.4 L32.6,199.6 L195.6,199.6" fill="none" stroke="#bdbdbd" stroke-width="0.8"/>
<line x1="32.6" y1="195.8" x2="195.6" y2="195.8" stroke="#d0d0d0" stroke-width="1.1"/>
<line x1="31.0" y1="195.80" x2="32.6" y2="195.80" stroke="#999" stroke-width="0.6"/>
<text transform="translate(30.40,197.90) scale(0.88,1)" text-anchor="end" class="tk">0.00</text>
<line x1="31.0" y1="178.40" x2="32.6" y2="178.40" stroke="#999" stroke-width="0.6"/>
<text transform="translate(30.40,180.50) scale(0.88,1)" text-anchor="end" class="tk">50.00</text>
<line x1="31.0" y1="161.00" x2="32.6" y2="161.00" stroke="#999" stroke-width="0.6"/>
<text transform="translate(30.40,163.10) scale(0.88,1)" text-anchor="end" class="tk">100.00</text>
<line x1="31.0" y1="143.60" x2="32.6" y2="143.60" stroke="#999" stroke-width="0.6"/>
<text transform="translate(30.40,145.70) scale(0.88,1)" text-anchor="end" class="tk">150.00</text>
<line x1="31.0" y1="126.20" x2="32.6" y2="126.20" stroke="#999" stroke-width="0.6"/>
<text transform="translate(30.40,128.30) scale(0.88,1)" text-anchor="end" class="tk">200.00</text>
<line x1="31.5" y1="195.80" x2="32.6" y2="195.80" stroke="#999" stroke-width="0.55"/>
<line x1="31.5" y1="192.32" x2="32.6" y2="192.32" stroke="#999" stroke-width="0.55"/>
<line x1="31.5" y1="188.84" x2="32.6" y2="188.84" stroke="#999" stroke-width="0.55"/>
<line x1="31.5" y1="185.36" x2="32.6" y2="185.36" stroke="#999" stroke-width="0.55"/>
<line x1="31.5" y1="181.88" x2="32.6" y2="181.88" stroke="#999" stroke-width="0.55"/>
<line x1="31.5" y1="178.40" x2="32.6" y2="178.40" stroke="#999" stroke-width="0.55"/>
<line x1="31.5" y1="174.92" x2="32.6" y2="174.92" stroke="#999" stroke-width="0.55"/>
<line x1="31.5" y1="171.44" x2="32.6" y2="171.44" stroke="#999" stroke-width="0.55"/>
<line x1="31.5" y1="167.96" x2="32.6" y2="167.96" stroke="#999" stroke-width="0.55"/>
<line x1="31.5" y1="164.48" x2="32.6" y2="164.48" stroke="#999" stroke-width="0.55"/>
<line x1="31.5" y1="161.00" x2="32.6" y2="161.00" stroke="#999" stroke-width="0.55"/>
<line x1="31.5" y1="157.52" x2="32.6" y2="157.52" stroke="#999" stroke-width="0.55"/>
<line x1="31.5" y1="154.04" x2="32.6" y2="154.04" stroke="#999" stroke-width="0.55"/>
<line x1="31.5" y1="150.56" x2="32.6" y2="150.56" stroke="#999" stroke-width="0.55"/>
<line x1="31.5" y1="147.08" x2="32.6" y2="147.08" stroke="#999" stroke-width="0.55"/>
<line x1="31.5" y1="143.60" x2="32.6" y2="143.60" stroke="#999" stroke-width="0.55"/>
<line x1="31.5" y1="140.12" x2="32.6" y2="140.12" stroke="#999" stroke-width="0.55"/>
<line x1="31.5" y1="136.64" x2="32.6" y2="136.64" stroke="#999" stroke-width="0.55"/>
<line x1="31.5" y1="133.16" x2="32.6" y2="133.16" stroke="#999" stroke-width="0.55"/>
<line x1="31.5" y1="129.68" x2="32.6" y2="129.68" stroke="#999" stroke-width="0.55"/>
<line x1="31.5" y1="126.20" x2="32.6" y2="126.20" stroke="#999" stroke-width="0.55"/>
<line x1="31.5" y1="122.72" x2="32.6" y2="122.72" stroke="#999" stroke-width="0.55"/>
<line x1="31.5" y1="119.24" x2="32.6" y2="119.24" stroke="#999" stroke-width="0.55"/>
<line x1="31.5" y1="115.76" x2="32.6" y2="115.76" stroke="#999" stroke-width="0.55"/>
<line x1="54.60" y1="199.6" x2="54.60" y2="201.2" stroke="#999" stroke-width="0.6"/>
<text transform="translate(54.60,206.40) scale(0.85,1)" text-anchor="middle" class="tk">2.00</text>
<line x1="76.30" y1="199.6" x2="76.30" y2="201.2" stroke="#999" stroke-width="0.6"/>
<text transform="translate(76.30,206.40) scale(0.85,1)" text-anchor="middle" class="tk">4.00</text>
<line x1="98.00" y1="199.6" x2="98.00" y2="201.2" stroke="#999" stroke-width="0.6"/>
<text transform="translate(98.00,206.40) scale(0.85,1)" text-anchor="middle" class="tk">6.00</text>
<line x1="119.70" y1="199.6" x2="119.70" y2="201.2" stroke="#999" stroke-width="0.6"/>
<text transform="translate(119.70,206.40) scale(0.85,1)" text-anchor="middle" class="tk">8.00</text>
<line x1="141.40" y1="199.6" x2="141.40" y2="201.2" stroke="#999" stroke-width="0.6"/>
<text transform="translate(141.40,206.40) scale(0.85,1)" text-anchor="middle" class="tk">10.00</text>
<line x1="163.10" y1="199.6" x2="163.10" y2="201.2" stroke="#999" stroke-width="0.6"/>
<text transform="translate(163.10,206.40) scale(0.85,1)" text-anchor="middle" class="tk">12.00</text>
<line x1="184.80" y1="199.6" x2="184.80" y2="201.2" stroke="#999" stroke-width="0.6"/>
<text transform="translate(184.80,206.40) scale(0.85,1)" text-anchor="middle" class="tk">14.00</text>
<line x1="38.32" y1="199.6" x2="38.32" y2="200.5" stroke="#999" stroke-width="0.55"/>
<line x1="43.75" y1="199.6" x2="43.75" y2="200.5" stroke="#999" stroke-width="0.55"/>
<line x1="49.17" y1="199.6" x2="49.17" y2="200.5" stroke="#999" stroke-width="0.55"/>
<line x1="54.60" y1="199.6" x2="54.60" y2="200.5" stroke="#999" stroke-width="0.55"/>
<line x1="60.02" y1="199.6" x2="60.02" y2="200.5" stroke="#999" stroke-width="0.55"/>
<line x1="65.45" y1="199.6" x2="65.45" y2="200.5" stroke="#999" stroke-width="0.55"/>
<line x1="70.88" y1="199.6" x2="70.88" y2="200.5" stroke="#999" stroke-width="0.55"/>
<line x1="76.30" y1="199.6" x2="76.30" y2="200.5" stroke="#999" stroke-width="0.55"/>
<line x1="81.72" y1="199.6" x2="81.72" y2="200.5" stroke="#999" stroke-width="0.55"/>
<line x1="87.15" y1="199.6" x2="87.15" y2="200.5" stroke="#999" stroke-width="0.55"/>
<line x1="92.57" y1="199.6" x2="92.57" y2="200.5" stroke="#999" stroke-width="0.55"/>
<line x1="98.00" y1="199.6" x2="98.00" y2="200.5" stroke="#999" stroke-width="0.55"/>
<line x1="103.42" y1="199.6" x2="103.42" y2="200.5" stroke="#999" stroke-width="0.55"/>
<line x1="108.85" y1="199.6" x2="108.85" y2="200.5" stroke="#999" stroke-width="0.55"/>
<line x1="114.28" y1="199.6" x2="114.28" y2="200.5" stroke="#999" stroke-width="0.55"/>
<line x1="119.70" y1="199.6" x2="119.70" y2="200.5" stroke="#999" stroke-width="0.55"/>
<line x1="125.12" y1="199.6" x2="125.12" y2="200.5" stroke="#999" stroke-width="0.55"/>
<line x1="130.55" y1="199.6" x2="130.55" y2="200.5" stroke="#999" stroke-width="0.55"/>
<line x1="135.97" y1="199.6" x2="135.97" y2="200.5" stroke="#999" stroke-width="0.55"/>
<line x1="141.40" y1="199.6" x2="141.40" y2="200.5" stroke="#999" stroke-width="0.55"/>
<line x1="146.82" y1="199.6" x2="146.82" y2="200.5" stroke="#999" stroke-width="0.55"/>
<line x1="152.25" y1="199.6" x2="152.25" y2="200.5" stroke="#999" stroke-width="0.55"/>
<line x1="157.67" y1="199.6" x2="157.67" y2="200.5" stroke="#999" stroke-width="0.55"/>
<line x1="163.10" y1="199.6" x2="163.10" y2="200.5" stroke="#999" stroke-width="0.55"/>
<line x1="168.53" y1="199.6" x2="168.53" y2="200.5" stroke="#999" stroke-width="0.55"/>
<line x1="173.95" y1="199.6" x2="173.95" y2="200.5" stroke="#999" stroke-width="0.55"/>
<line x1="179.38" y1="199.6" x2="179.38" y2="200.5" stroke="#999" stroke-width="0.55"/>
<line x1="184.80" y1="199.6" x2="184.80" y2="200.5" stroke="#999" stroke-width="0.55"/>
<line x1="190.22" y1="199.6" x2="190.22" y2="200.5" stroke="#999" stroke-width="0.55"/>
<text transform="translate(14.2,157.5) rotate(-90)" text-anchor="middle" class="mv">MV</text>
<text transform="translate(114.1,212.10000000000002) scale(0.88,1)" text-anchor="middle" class="mn">Minutes</text>
<line x1="96" y1="196.4" x2="182" y2="196.4" stroke="#f88" stroke-width="0.45"/>
<line x1="108.2" y1="188.16" x2="108.2" y2="196.8" stroke="#f77" stroke-width="0.45"/>
<line x1="119.5" y1="180.79" x2="119.5" y2="196.8" stroke="#f77" stroke-width="0.45"/>
<line x1="174.2" y1="192.8" x2="174.2" y2="197.3" stroke="#888" stroke-width="0.45"/>
<path d="M108.20,188.16 L108.45,187.89 L108.70,187.58 L108.95,187.26 L109.20,186.91 L109.45,186.54 L109.70,186.16 L109.95,185.77 L110.20,185.37 L110.45,184.96 L110.70,184.54 L110.95,184.12 L111.20,183.69 L111.45,183.26 L111.70,182.83 L111.95,182.39 L112.20,181.96 L112.45,181.52 L112.70,181.09 L112.95,180.66 L113.20,180.22 L113.45,179.79 L113.70,179.36 L113.95,178.92 L114.20,178.48 L114.45,178.04 L114.70,177.59 L114.95,177.13 L115.20,176.67 L115.45,176.21 L115.70,175.77 L115.95,175.81 L116.20,176.20 L116.45,176.77 L116.70,177.43 L116.95,178.10 L117.20,178.74 L117.45,179.32 L117.70,179.80 L117.95,180.18 L118.20,180.46 L118.45,180.64 L118.70,180.75 L118.95,180.79 L119.20,180.80 L119.45,180.79 L119.70,180.79 L119.95,180.81 L120.20,180.88 L120.45,181.01 L120.70,181.21 L120.95,181.50 L121.20,181.86 L121.45,182.29 L121.70,182.78 L121.95,183.33 L122.20,183.91 L122.45,184.51 L122.70,185.11 L122.95,185.70 L123.20,186.26 L123.45,186.80 L123.70,187.28 L123.95,187.72 L124.20,188.11 L124.45,188.45 L124.70,188.74 L124.95,188.98 L125.20,189.18 L125.45,189.36 L125.70,189.51 L125.95,189.64 L126.20,189.75 L126.45,189.87 L126.70,190.00 L126.95,190.20 L127.20,190.47 L127.45,190.80 L127.70,191.17 L127.95,191.58 L128.20,192.02 L128.45,192.46 L128.70,192.89 L128.95,193.31 L129.20,193.70 L129.45,194.05 L129.70,194.35 L129.95,194.61 L130.20,194.83 L130.45,194.99 L130.70,195.11 L130.95,195.18 L131.20,195.21 L131.45,195.20 L131.70,195.14 L131.95,195.05 L132.20,194.91 L132.45,194.73 L132.70,194.50 L132.95,194.24 L133.20,193.93 L133.45,193.57 L133.70,193.17 L133.95,192.74 L134.20,192.26 L134.45,191.76 L134.70,191.23 L134.95,190.69 L135.20,190.15 L135.45,189.62 L135.70,189.11 L135.95,188.63 L136.20,188.21 L136.45,187.85 L136.70,187.56 L136.95,187.35 L137.20,187.23 L137.45,187.20 L137.70,187.26 L137.95,187.39 L138.20,187.60 L138.45,187.87 L138.70,188.21 L138.95,188.60 L139.20,189.03 L139.45,189.50 L139.70,189.98 L139.95,190.48 L140.20,190.98 L140.45,191.48 L140.70,191.96 L140.95,192.41 L141.20,192.84 L141.45,193.24 L141.70,193.61 L141.95,193.94 L142.20,194.24 L142.45,194.50 L142.70,194.72 L142.95,194.92 L143.20,195.09 L143.45,195.23 L143.70,195.34 L143.95,195.44 L144.20,195.52 L144.45,195.58 L144.70,195.63 L144.95,195.66 L145.20,195.69 L145.45,195.70 L145.70,195.70 L145.95,195.70 L146.20,195.68 L146.45,195.64 L146.70,195.60 L146.95,195.53 L147.20,195.44 L147.45,195.32 L147.70,195.18 L147.95,195.01 L148.20,194.81 L148.45,194.59 L148.70,194.34 L148.95,194.07 L149.20,193.80 L149.45,193.52 L149.70,193.26 L149.95,193.02 L150.20,192.81 L150.45,192.65 L150.70,192.55 L150.95,192.50 L151.20,192.51 L151.45,192.57 L151.70,192.66 L151.95,192.79 L152.20,192.96 L152.45,193.14 L152.70,193.35 L152.95,193.57 L153.20,193.80 L153.45,194.02 L153.70,194.25 L153.95,194.46 L154.20,194.65 L154.45,194.84 L154.70,195.00 L154.95,195.14 L155.20,195.27 L155.45,195.37 L155.70,195.46 L155.95,195.54 L156.20,195.60 L156.45,195.65 L156.70,195.68 L156.95,195.71 L157.20,195.74 L157.45,195.76 L157.70,195.77 L157.95,195.78 L158.20,195.78 L158.45,195.79 L158.70,195.79 L158.95,195.80 L159.20,195.80 L159.45,195.80 L159.70,195.80 L159.95,195.80 L160.20,195.80 L160.45,195.80 L160.70,195.80 L160.95,195.80 L161.20,195.80 L161.45,195.80 L161.70,195.80 L161.95,195.80" fill="none" stroke="#555" stroke-width="0.6"/>
<path d="M96.00,195.18 L96.25,194.91 L96.50,194.49 L96.75,193.83 L97.00,192.84 L97.25,191.38 L97.50,189.27 L97.75,186.31 L98.00,182.29 L98.25,177.03 L98.50,170.43 L98.75,162.54 L99.00,153.63 L99.25,144.21 L99.50,135.03 L99.75,126.99 L100.00,120.99 L100.25,117.77 L100.50,117.57 L100.75,120.21 L101.00,125.33 L101.25,132.17 L101.50,139.83 L101.75,147.48 L102.00,154.49 L102.25,160.51 L102.50,165.47 L102.75,169.44 L103.00,172.62 L103.25,175.21 L103.50,177.37 L103.75,179.23 L104.00,180.86 L104.25,182.31 L104.50,183.59 L104.75,184.72 L105.00,185.69 L105.25,186.52 L105.50,187.21 L105.75,187.76 L106.00,188.19 L106.25,188.51 L106.50,188.72 L106.75,188.83 L107.00,188.86 L107.25,188.82 L107.50,188.72 L107.75,188.56 L108.00,188.35" fill="none" stroke="#f55" stroke-width="0.5"/>
<path d="M85.70,198.10 L87.20,195.50 L88.70,198.10 Z" fill="none" stroke="#f55" stroke-width="0.55"/>
<circle cx="107.9" cy="197.00" r="1.4" fill="none" stroke="#f55" stroke-width="0.55"/>
<circle cx="119.5" cy="197.00" r="1.4" fill="none" stroke="#f55" stroke-width="0.55"/>
<circle cx="132.1" cy="197.00" r="1.4" fill="none" stroke="#f55" stroke-width="0.55"/>
<circle cx="145.2" cy="197.00" r="1.4" fill="none" stroke="#f55" stroke-width="0.55"/>
<path d="M159.70,198.10 L161.20,195.50 L162.70,198.10 Z" fill="none" stroke="#f55" stroke-width="0.55"/>
<path d="M166.50,198.10 L168.00,195.50 L169.50,198.10 Z" fill="none" stroke="#f55" stroke-width="0.55"/>
<path d="M178.50,198.10 L180.00,195.50 L181.50,198.10 Z" fill="none" stroke="#f55" stroke-width="0.55"/>
<text transform="translate(102.30,128.40) rotate(-90)" text-anchor="middle" class="pl">6.204</text>
<text transform="translate(117.40,168.05) rotate(-90)" text-anchor="middle" class="pl">7.677</text>
<text transform="translate(123.20,172.75) rotate(-90)" text-anchor="middle" class="pl">8.164</text>
<text transform="translate(139.50,178.05) rotate(-90)" text-anchor="middle" class="pl">9.663</text>
<text transform="translate(153.00,182.10) rotate(-90)" text-anchor="middle" class="pl">10.877</text>
<text transform="translate(175.50,184.30) rotate(-90)" text-anchor="middle" class="pl">13.053</text>
<text x="127.1" y="132.6" class="de" style="font-size:7.4px" textLength="20.0" lengthAdjust="spacingAndGlyphs">DE&#160;&#160;13</text>
<path d="M235.6,115.1 L398.4,115.1 L398.4,199.6" fill="none" stroke="#d2d2d2" stroke-width="0.9"/>
<path d="M235.6,115.1 L235.6,199.6 L398.4,199.6" fill="none" stroke="#bdbdbd" stroke-width="0.8"/>
<line x1="235.6" y1="195.8" x2="398.4" y2="195.8" stroke="#d0d0d0" stroke-width="1.1"/>
<line x1="234.0" y1="195.80" x2="235.6" y2="195.80" stroke="#999" stroke-width="0.6"/>
<text transform="translate(233.40,197.90) scale(0.88,1)" text-anchor="end" class="tk">0.00</text>
<line x1="234.0" y1="178.35" x2="235.6" y2="178.35" stroke="#999" stroke-width="0.6"/>
<text transform="translate(233.40,180.45) scale(0.88,1)" text-anchor="end" class="tk">50.00</text>
<line x1="234.0" y1="160.90" x2="235.6" y2="160.90" stroke="#999" stroke-width="0.6"/>
<text transform="translate(233.40,163.00) scale(0.88,1)" text-anchor="end" class="tk">100.00</text>
<line x1="234.0" y1="143.45" x2="235.6" y2="143.45" stroke="#999" stroke-width="0.6"/>
<text transform="translate(233.40,145.55) scale(0.88,1)" text-anchor="end" class="tk">150.00</text>
<line x1="234.0" y1="126.00" x2="235.6" y2="126.00" stroke="#999" stroke-width="0.6"/>
<text transform="translate(233.40,128.10) scale(0.88,1)" text-anchor="end" class="tk">200.00</text>
<line x1="234.5" y1="195.80" x2="235.6" y2="195.80" stroke="#999" stroke-width="0.55"/>
<line x1="234.5" y1="192.31" x2="235.6" y2="192.31" stroke="#999" stroke-width="0.55"/>
<line x1="234.5" y1="188.82" x2="235.6" y2="188.82" stroke="#999" stroke-width="0.55"/>
<line x1="234.5" y1="185.33" x2="235.6" y2="185.33" stroke="#999" stroke-width="0.55"/>
<line x1="234.5" y1="181.84" x2="235.6" y2="181.84" stroke="#999" stroke-width="0.55"/>
<line x1="234.5" y1="178.35" x2="235.6" y2="178.35" stroke="#999" stroke-width="0.55"/>
<line x1="234.5" y1="174.86" x2="235.6" y2="174.86" stroke="#999" stroke-width="0.55"/>
<line x1="234.5" y1="171.37" x2="235.6" y2="171.37" stroke="#999" stroke-width="0.55"/>
<line x1="234.5" y1="167.88" x2="235.6" y2="167.88" stroke="#999" stroke-width="0.55"/>
<line x1="234.5" y1="164.39" x2="235.6" y2="164.39" stroke="#999" stroke-width="0.55"/>
<line x1="234.5" y1="160.90" x2="235.6" y2="160.90" stroke="#999" stroke-width="0.55"/>
<line x1="234.5" y1="157.41" x2="235.6" y2="157.41" stroke="#999" stroke-width="0.55"/>
<line x1="234.5" y1="153.92" x2="235.6" y2="153.92" stroke="#999" stroke-width="0.55"/>
<line x1="234.5" y1="150.43" x2="235.6" y2="150.43" stroke="#999" stroke-width="0.55"/>
<line x1="234.5" y1="146.94" x2="235.6" y2="146.94" stroke="#999" stroke-width="0.55"/>
<line x1="234.5" y1="143.45" x2="235.6" y2="143.45" stroke="#999" stroke-width="0.55"/>
<line x1="234.5" y1="139.96" x2="235.6" y2="139.96" stroke="#999" stroke-width="0.55"/>
<line x1="234.5" y1="136.47" x2="235.6" y2="136.47" stroke="#999" stroke-width="0.55"/>
<line x1="234.5" y1="132.98" x2="235.6" y2="132.98" stroke="#999" stroke-width="0.55"/>
<line x1="234.5" y1="129.49" x2="235.6" y2="129.49" stroke="#999" stroke-width="0.55"/>
<line x1="234.5" y1="126.00" x2="235.6" y2="126.00" stroke="#999" stroke-width="0.55"/>
<line x1="234.5" y1="122.51" x2="235.6" y2="122.51" stroke="#999" stroke-width="0.55"/>
<line x1="234.5" y1="119.02" x2="235.6" y2="119.02" stroke="#999" stroke-width="0.55"/>
<line x1="234.5" y1="115.53" x2="235.6" y2="115.53" stroke="#999" stroke-width="0.55"/>
<line x1="255.42" y1="199.6" x2="255.42" y2="201.2" stroke="#999" stroke-width="0.6"/>
<text transform="translate(255.42,206.40) scale(0.85,1)" text-anchor="middle" class="tk">2.00</text>
<line x1="275.84" y1="199.6" x2="275.84" y2="201.2" stroke="#999" stroke-width="0.6"/>
<text transform="translate(275.84,206.40) scale(0.85,1)" text-anchor="middle" class="tk">4.00</text>
<line x1="296.26" y1="199.6" x2="296.26" y2="201.2" stroke="#999" stroke-width="0.6"/>
<text transform="translate(296.26,206.40) scale(0.85,1)" text-anchor="middle" class="tk">6.00</text>
<line x1="316.68" y1="199.6" x2="316.68" y2="201.2" stroke="#999" stroke-width="0.6"/>
<text transform="translate(316.68,206.40) scale(0.85,1)" text-anchor="middle" class="tk">8.00</text>
<line x1="337.10" y1="199.6" x2="337.10" y2="201.2" stroke="#999" stroke-width="0.6"/>
<text transform="translate(337.10,206.40) scale(0.85,1)" text-anchor="middle" class="tk">10.00</text>
<line x1="357.52" y1="199.6" x2="357.52" y2="201.2" stroke="#999" stroke-width="0.6"/>
<text transform="translate(357.52,206.40) scale(0.85,1)" text-anchor="middle" class="tk">12.00</text>
<line x1="377.94" y1="199.6" x2="377.94" y2="201.2" stroke="#999" stroke-width="0.6"/>
<text transform="translate(377.94,206.40) scale(0.85,1)" text-anchor="middle" class="tk">14.00</text>
<line x1="398.36" y1="199.6" x2="398.36" y2="201.2" stroke="#999" stroke-width="0.6"/>
<text transform="translate(398.36,206.40) scale(0.85,1)" text-anchor="middle" class="tk">16.00</text>
<line x1="240.10" y1="199.6" x2="240.10" y2="200.5" stroke="#999" stroke-width="0.55"/>
<line x1="245.21" y1="199.6" x2="245.21" y2="200.5" stroke="#999" stroke-width="0.55"/>
<line x1="250.31" y1="199.6" x2="250.31" y2="200.5" stroke="#999" stroke-width="0.55"/>
<line x1="255.42" y1="199.6" x2="255.42" y2="200.5" stroke="#999" stroke-width="0.55"/>
<line x1="260.52" y1="199.6" x2="260.52" y2="200.5" stroke="#999" stroke-width="0.55"/>
<line x1="265.63" y1="199.6" x2="265.63" y2="200.5" stroke="#999" stroke-width="0.55"/>
<line x1="270.74" y1="199.6" x2="270.74" y2="200.5" stroke="#999" stroke-width="0.55"/>
<line x1="275.84" y1="199.6" x2="275.84" y2="200.5" stroke="#999" stroke-width="0.55"/>
<line x1="280.94" y1="199.6" x2="280.94" y2="200.5" stroke="#999" stroke-width="0.55"/>
<line x1="286.05" y1="199.6" x2="286.05" y2="200.5" stroke="#999" stroke-width="0.55"/>
<line x1="291.15" y1="199.6" x2="291.15" y2="200.5" stroke="#999" stroke-width="0.55"/>
<line x1="296.26" y1="199.6" x2="296.26" y2="200.5" stroke="#999" stroke-width="0.55"/>
<line x1="301.37" y1="199.6" x2="301.37" y2="200.5" stroke="#999" stroke-width="0.55"/>
<line x1="306.47" y1="199.6" x2="306.47" y2="200.5" stroke="#999" stroke-width="0.55"/>
<line x1="311.57" y1="199.6" x2="311.57" y2="200.5" stroke="#999" stroke-width="0.55"/>
<line x1="316.68" y1="199.6" x2="316.68" y2="200.5" stroke="#999" stroke-width="0.55"/>
<line x1="321.79" y1="199.6" x2="321.79" y2="200.5" stroke="#999" stroke-width="0.55"/>
<line x1="326.89" y1="199.6" x2="326.89" y2="200.5" stroke="#999" stroke-width="0.55"/>
<line x1="332.00" y1="199.6" x2="332.00" y2="200.5" stroke="#999" stroke-width="0.55"/>
<line x1="337.10" y1="199.6" x2="337.10" y2="200.5" stroke="#999" stroke-width="0.55"/>
<line x1="342.21" y1="199.6" x2="342.21" y2="200.5" stroke="#999" stroke-width="0.55"/>
<line x1="347.31" y1="199.6" x2="347.31" y2="200.5" stroke="#999" stroke-width="0.55"/>
<line x1="352.42" y1="199.6" x2="352.42" y2="200.5" stroke="#999" stroke-width="0.55"/>
<line x1="357.52" y1="199.6" x2="357.52" y2="200.5" stroke="#999" stroke-width="0.55"/>
<line x1="362.62" y1="199.6" x2="362.62" y2="200.5" stroke="#999" stroke-width="0.55"/>
<line x1="367.73" y1="199.6" x2="367.73" y2="200.5" stroke="#999" stroke-width="0.55"/>
<line x1="372.84" y1="199.6" x2="372.84" y2="200.5" stroke="#999" stroke-width="0.55"/>
<line x1="377.94" y1="199.6" x2="377.94" y2="200.5" stroke="#999" stroke-width="0.55"/>
<line x1="383.05" y1="199.6" x2="383.05" y2="200.5" stroke="#999" stroke-width="0.55"/>
<line x1="388.15" y1="199.6" x2="388.15" y2="200.5" stroke="#999" stroke-width="0.55"/>
<line x1="393.25" y1="199.6" x2="393.25" y2="200.5" stroke="#999" stroke-width="0.55"/>
<line x1="398.36" y1="199.6" x2="398.36" y2="200.5" stroke="#999" stroke-width="0.55"/>
<text transform="translate(215.7,157) rotate(-90)" text-anchor="middle" class="mv">MV</text>
<text transform="translate(316.4,212.10000000000002) scale(0.88,1)" text-anchor="middle" class="mn">Minutes</text>
<line x1="292" y1="196.4" x2="378" y2="196.4" stroke="#f88" stroke-width="0.45"/>
<line x1="303.6" y1="189.75" x2="303.6" y2="196.8" stroke="#f77" stroke-width="0.45"/>
<line x1="367" y1="192.8" x2="367" y2="197.3" stroke="#888" stroke-width="0.45"/>
<path d="M303.60,189.75 L303.85,189.59 L304.10,189.33 L304.35,188.98 L304.60,188.54 L304.85,188.02 L305.10,187.42 L305.35,186.75 L305.60,186.00 L305.85,185.18 L306.10,184.29 L306.35,183.34 L306.60,182.32 L306.85,181.23 L307.10,180.09 L307.35,178.88 L307.60,177.62 L307.85,176.31 L308.10,174.96 L308.35,173.56 L308.60,172.14 L308.85,170.68 L309.10,169.22 L309.35,167.76 L309.60,166.31 L309.85,164.89 L310.10,163.52 L310.35,162.23 L310.60,161.05 L310.85,160.02 L311.10,159.19 L311.35,158.69 L311.60,159.15 L311.85,160.09 L312.10,161.28 L312.35,162.65 L312.60,164.14 L312.85,165.71 L313.10,167.32 L313.35,168.96 L313.60,170.59 L313.85,172.18 L314.10,173.69 L314.35,175.07 L314.60,176.25 L314.85,177.20 L315.10,177.91 L315.35,178.42 L315.60,178.88 L315.85,179.44 L316.10,180.27 L316.35,181.31 L316.60,182.29 L316.85,183.24 L317.10,184.14 L317.35,184.99 L317.60,185.80 L317.85,186.57 L318.10,187.29 L318.35,187.96 L318.60,188.58 L318.85,189.14 L319.10,189.64 L319.35,190.07 L319.60,190.42 L319.85,190.68 L320.10,190.85 L320.35,190.92 L320.60,190.90 L320.85,190.78 L321.10,190.58 L321.35,190.32 L321.60,190.02 L321.85,189.72 L322.10,189.44 L322.35,189.23 L322.60,189.10 L322.85,189.08 L323.10,189.19 L323.35,189.41 L323.60,189.75 L323.85,190.18 L324.10,190.68 L324.35,191.21 L324.60,191.75 L324.85,192.27 L325.10,192.74 L325.35,193.13 L325.60,193.44 L325.85,193.65 L326.10,193.75 L326.35,193.76 L326.60,193.66 L326.85,193.47 L327.10,193.19 L327.35,192.82 L327.60,192.38 L327.85,191.87 L328.10,191.30 L328.35,190.68 L328.60,190.02 L328.85,189.32 L329.10,188.60 L329.35,187.89 L329.60,187.18 L329.85,186.49 L330.10,185.85 L330.35,185.26 L330.60,184.75 L330.85,184.33 L331.10,184.00 L331.35,183.78 L331.60,183.68 L331.85,183.68 L332.10,183.78 L332.35,183.96 L332.60,184.22 L332.85,184.56 L333.10,184.96 L333.35,185.42 L333.60,185.94 L333.85,186.49 L334.10,187.08 L334.35,187.69 L334.60,188.31 L334.85,188.92 L335.10,189.53 L335.35,190.13 L335.60,190.70 L335.85,191.24 L336.10,191.74 L336.35,192.20 L336.60,192.62 L336.85,193.00 L337.10,193.33 L337.35,193.61 L337.60,193.84 L337.85,194.02 L338.10,194.16 L338.35,194.25 L338.60,194.29 L338.85,194.29 L339.10,194.25 L339.35,194.16 L339.60,194.03 L339.85,193.87 L340.10,193.68 L340.35,193.45 L340.60,193.19 L340.85,192.92 L341.10,192.62 L341.35,192.32 L341.60,192.00 L341.85,191.69 L342.10,191.38 L342.35,191.08 L342.60,190.81 L342.85,190.56 L343.10,190.34 L343.35,190.16 L343.60,190.03 L343.85,189.94 L344.10,189.89 L344.35,189.90 L344.60,189.95 L344.85,190.04 L345.10,190.17 L345.35,190.34 L345.60,190.55 L345.85,190.78 L346.10,191.05 L346.35,191.33 L346.60,191.62 L346.85,191.93 L347.10,192.24 L347.35,192.55 L347.60,192.86 L347.85,193.15 L348.10,193.44 L348.35,193.71 L348.60,193.96 L348.85,194.19 L349.10,194.41 L349.35,194.61 L349.60,194.78 L349.85,194.94 L350.10,195.08 L350.35,195.20 L350.60,195.30 L350.85,195.39 L351.10,195.46 L351.35,195.53 L351.60,195.58 L351.85,195.63" fill="none" stroke="#555" stroke-width="0.6"/>
<path d="M292.00,195.73 L292.25,195.67 L292.50,195.57 L292.75,195.40 L293.00,195.12 L293.25,194.67 L293.50,193.96 L293.75,192.85 L294.00,191.20 L294.25,188.78 L294.50,185.37 L294.75,180.75 L295.00,174.74 L295.25,167.29 L295.50,158.58 L295.75,149.01 L296.00,139.27 L296.25,130.27 L296.50,123.01 L296.75,118.37 L297.00,116.93 L297.25,118.38 L297.50,122.42 L297.75,128.50 L298.00,135.86 L298.25,143.71 L298.50,151.33 L298.75,158.22 L299.00,164.11 L299.25,168.94 L299.50,172.80 L299.75,175.85 L300.00,178.29 L300.25,180.28 L300.50,181.95 L300.75,183.38 L301.00,184.63 L301.25,185.73 L301.50,186.69 L301.75,187.52 L302.00,188.21 L302.25,188.77 L302.50,189.21 L302.75,189.53 L303.00,189.73 L303.25,189.81 L303.50,189.79" fill="none" stroke="#f55" stroke-width="0.5"/>
<path d="M284.50,198.10 L286.00,195.50 L287.50,198.10 Z" fill="none" stroke="#f55" stroke-width="0.55"/>
<circle cx="303.6" cy="197.00" r="1.4" fill="none" stroke="#f55" stroke-width="0.55"/>
<circle cx="319.8" cy="197.00" r="1.4" fill="none" stroke="#f55" stroke-width="0.55"/>
<circle cx="327" cy="197.00" r="1.4" fill="none" stroke="#f55" stroke-width="0.55"/>
<circle cx="339.4" cy="197.00" r="1.4" fill="none" stroke="#f55" stroke-width="0.55"/>
<path d="M352.40,198.10 L353.90,195.50 L355.40,198.10 Z" fill="none" stroke="#f55" stroke-width="0.55"/>
<path d="M358.90,198.10 L360.40,195.50 L361.90,198.10 Z" fill="none" stroke="#f55" stroke-width="0.55"/>
<path d="M373.10,198.10 L374.60,195.50 L376.10,198.10 Z" fill="none" stroke="#f55" stroke-width="0.55"/>
<text transform="translate(299.10,127.55) rotate(-90)" text-anchor="middle" class="pl">6.064</text>
<text transform="translate(313.40,151.20) rotate(-90)" text-anchor="middle" class="pl">7.477</text>
<text transform="translate(325.00,180.05) rotate(-90)" text-anchor="middle" class="pl">8.615</text>
<text transform="translate(333.70,175.85) rotate(-90)" text-anchor="middle" class="pl">9.471</text>
<text transform="translate(346.20,180.25) rotate(-90)" text-anchor="middle" class="pl">10.708</text>
<text transform="translate(369.00,183.90) rotate(-90)" text-anchor="middle" class="pl">12.924</text>
<text x="348.3" y="137.1" class="de" style="font-size:7.4px" textLength="20.1" lengthAdjust="spacingAndGlyphs">DE&#160;&#160;15</text>
<path d="M36.2,231.4 L190.8,231.4 L190.8,317.0" fill="none" stroke="#d2d2d2" stroke-width="0.9"/>
<path d="M36.2,231.4 L36.2,317.0 L190.8,317.0" fill="none" stroke="#bdbdbd" stroke-width="0.8"/>
<line x1="36.2" y1="313.0" x2="190.8" y2="313.0" stroke="#d0d0d0" stroke-width="1.1"/>
<line x1="34.6" y1="313.00" x2="36.2" y2="313.00" stroke="#999" stroke-width="0.6"/>
<text transform="translate(34.00,315.10) scale(0.88,1)" text-anchor="end" class="tk">0.00</text>
<line x1="34.6" y1="299.10" x2="36.2" y2="299.10" stroke="#999" stroke-width="0.6"/>
<text transform="translate(34.00,301.20) scale(0.88,1)" text-anchor="end" class="tk">50.00</text>
<line x1="34.6" y1="285.20" x2="36.2" y2="285.20" stroke="#999" stroke-width="0.6"/>
<text transform="translate(34.00,287.30) scale(0.88,1)" text-anchor="end" class="tk">100.00</text>
<line x1="34.6" y1="271.30" x2="36.2" y2="271.30" stroke="#999" stroke-width="0.6"/>
<text transform="translate(34.00,273.40) scale(0.88,1)" text-anchor="end" class="tk">150.00</text>
<line x1="34.6" y1="257.40" x2="36.2" y2="257.40" stroke="#999" stroke-width="0.6"/>
<text transform="translate(34.00,259.50) scale(0.88,1)" text-anchor="end" class="tk">200.00</text>
<line x1="34.6" y1="243.50" x2="36.2" y2="243.50" stroke="#999" stroke-width="0.6"/>
<text transform="translate(34.00,245.60) scale(0.88,1)" text-anchor="end" class="tk">250.00</text>
<line x1="35.1" y1="313.00" x2="36.2" y2="313.00" stroke="#999" stroke-width="0.55"/>
<line x1="35.1" y1="310.22" x2="36.2" y2="310.22" stroke="#999" stroke-width="0.55"/>
<line x1="35.1" y1="307.44" x2="36.2" y2="307.44" stroke="#999" stroke-width="0.55"/>
<line x1="35.1" y1="304.66" x2="36.2" y2="304.66" stroke="#999" stroke-width="0.55"/>
<line x1="35.1" y1="301.88" x2="36.2" y2="301.88" stroke="#999" stroke-width="0.55"/>
<line x1="35.1" y1="299.10" x2="36.2" y2="299.10" stroke="#999" stroke-width="0.55"/>
<line x1="35.1" y1="296.32" x2="36.2" y2="296.32" stroke="#999" stroke-width="0.55"/>
<line x1="35.1" y1="293.54" x2="36.2" y2="293.54" stroke="#999" stroke-width="0.55"/>
<line x1="35.1" y1="290.76" x2="36.2" y2="290.76" stroke="#999" stroke-width="0.55"/>
<line x1="35.1" y1="287.98" x2="36.2" y2="287.98" stroke="#999" stroke-width="0.55"/>
<line x1="35.1" y1="285.20" x2="36.2" y2="285.20" stroke="#999" stroke-width="0.55"/>
<line x1="35.1" y1="282.42" x2="36.2" y2="282.42" stroke="#999" stroke-width="0.55"/>
<line x1="35.1" y1="279.64" x2="36.2" y2="279.64" stroke="#999" stroke-width="0.55"/>
<line x1="35.1" y1="276.86" x2="36.2" y2="276.86" stroke="#999" stroke-width="0.55"/>
<line x1="35.1" y1="274.08" x2="36.2" y2="274.08" stroke="#999" stroke-width="0.55"/>
<line x1="35.1" y1="271.30" x2="36.2" y2="271.30" stroke="#999" stroke-width="0.55"/>
<line x1="35.1" y1="268.52" x2="36.2" y2="268.52" stroke="#999" stroke-width="0.55"/>
<line x1="35.1" y1="265.74" x2="36.2" y2="265.74" stroke="#999" stroke-width="0.55"/>
<line x1="35.1" y1="262.96" x2="36.2" y2="262.96" stroke="#999" stroke-width="0.55"/>
<line x1="35.1" y1="260.18" x2="36.2" y2="260.18" stroke="#999" stroke-width="0.55"/>
<line x1="35.1" y1="257.40" x2="36.2" y2="257.40" stroke="#999" stroke-width="0.55"/>
<line x1="35.1" y1="254.62" x2="36.2" y2="254.62" stroke="#999" stroke-width="0.55"/>
<line x1="35.1" y1="251.84" x2="36.2" y2="251.84" stroke="#999" stroke-width="0.55"/>
<line x1="35.1" y1="249.06" x2="36.2" y2="249.06" stroke="#999" stroke-width="0.55"/>
<line x1="35.1" y1="246.28" x2="36.2" y2="246.28" stroke="#999" stroke-width="0.55"/>
<line x1="35.1" y1="243.50" x2="36.2" y2="243.50" stroke="#999" stroke-width="0.55"/>
<line x1="35.1" y1="240.72" x2="36.2" y2="240.72" stroke="#999" stroke-width="0.55"/>
<line x1="35.1" y1="237.94" x2="36.2" y2="237.94" stroke="#999" stroke-width="0.55"/>
<line x1="35.1" y1="235.16" x2="36.2" y2="235.16" stroke="#999" stroke-width="0.55"/>
<line x1="35.1" y1="232.38" x2="36.2" y2="232.38" stroke="#999" stroke-width="0.55"/>
<line x1="55.54" y1="317.0" x2="55.54" y2="318.6" stroke="#999" stroke-width="0.6"/>
<text transform="translate(55.54,323.80) scale(0.85,1)" text-anchor="middle" class="tk">2.00</text>
<line x1="74.88" y1="317.0" x2="74.88" y2="318.6" stroke="#999" stroke-width="0.6"/>
<text transform="translate(74.88,323.80) scale(0.85,1)" text-anchor="middle" class="tk">4.00</text>
<line x1="94.22" y1="317.0" x2="94.22" y2="318.6" stroke="#999" stroke-width="0.6"/>
<text transform="translate(94.22,323.80) scale(0.85,1)" text-anchor="middle" class="tk">6.00</text>
<line x1="113.56" y1="317.0" x2="113.56" y2="318.6" stroke="#999" stroke-width="0.6"/>
<text transform="translate(113.56,323.80) scale(0.85,1)" text-anchor="middle" class="tk">8.00</text>
<line x1="132.90" y1="317.0" x2="132.90" y2="318.6" stroke="#999" stroke-width="0.6"/>
<text transform="translate(132.90,323.80) scale(0.85,1)" text-anchor="middle" class="tk">10.00</text>
<line x1="152.24" y1="317.0" x2="152.24" y2="318.6" stroke="#999" stroke-width="0.6"/>
<text transform="translate(152.24,323.80) scale(0.85,1)" text-anchor="middle" class="tk">12.00</text>
<line x1="171.58" y1="317.0" x2="171.58" y2="318.6" stroke="#999" stroke-width="0.6"/>
<text transform="translate(171.58,323.80) scale(0.85,1)" text-anchor="middle" class="tk">14.00</text>
<line x1="190.92" y1="317.0" x2="190.92" y2="318.6" stroke="#999" stroke-width="0.6"/>
<text transform="translate(190.92,323.80) scale(0.85,1)" text-anchor="middle" class="tk">16.00</text>
<line x1="41.04" y1="317.0" x2="41.04" y2="317.9" stroke="#999" stroke-width="0.55"/>
<line x1="45.87" y1="317.0" x2="45.87" y2="317.9" stroke="#999" stroke-width="0.55"/>
<line x1="50.70" y1="317.0" x2="50.70" y2="317.9" stroke="#999" stroke-width="0.55"/>
<line x1="55.54" y1="317.0" x2="55.54" y2="317.9" stroke="#999" stroke-width="0.55"/>
<line x1="60.38" y1="317.0" x2="60.38" y2="317.9" stroke="#999" stroke-width="0.55"/>
<line x1="65.21" y1="317.0" x2="65.21" y2="317.9" stroke="#999" stroke-width="0.55"/>
<line x1="70.05" y1="317.0" x2="70.05" y2="317.9" stroke="#999" stroke-width="0.55"/>
<line x1="74.88" y1="317.0" x2="74.88" y2="317.9" stroke="#999" stroke-width="0.55"/>
<line x1="79.72" y1="317.0" x2="79.72" y2="317.9" stroke="#999" stroke-width="0.55"/>
<line x1="84.55" y1="317.0" x2="84.55" y2="317.9" stroke="#999" stroke-width="0.55"/>
<line x1="89.39" y1="317.0" x2="89.39" y2="317.9" stroke="#999" stroke-width="0.55"/>
<line x1="94.22" y1="317.0" x2="94.22" y2="317.9" stroke="#999" stroke-width="0.55"/>
<line x1="99.06" y1="317.0" x2="99.06" y2="317.9" stroke="#999" stroke-width="0.55"/>
<line x1="103.89" y1="317.0" x2="103.89" y2="317.9" stroke="#999" stroke-width="0.55"/>
<line x1="108.73" y1="317.0" x2="108.73" y2="317.9" stroke="#999" stroke-width="0.55"/>
<line x1="113.56" y1="317.0" x2="113.56" y2="317.9" stroke="#999" stroke-width="0.55"/>
<line x1="118.39" y1="317.0" x2="118.39" y2="317.9" stroke="#999" stroke-width="0.55"/>
<line x1="123.23" y1="317.0" x2="123.23" y2="317.9" stroke="#999" stroke-width="0.55"/>
<line x1="128.06" y1="317.0" x2="128.06" y2="317.9" stroke="#999" stroke-width="0.55"/>
<line x1="132.90" y1="317.0" x2="132.90" y2="317.9" stroke="#999" stroke-width="0.55"/>
<line x1="137.74" y1="317.0" x2="137.74" y2="317.9" stroke="#999" stroke-width="0.55"/>
<line x1="142.57" y1="317.0" x2="142.57" y2="317.9" stroke="#999" stroke-width="0.55"/>
<line x1="147.41" y1="317.0" x2="147.41" y2="317.9" stroke="#999" stroke-width="0.55"/>
<line x1="152.24" y1="317.0" x2="152.24" y2="317.9" stroke="#999" stroke-width="0.55"/>
<line x1="157.07" y1="317.0" x2="157.07" y2="317.9" stroke="#999" stroke-width="0.55"/>
<line x1="161.91" y1="317.0" x2="161.91" y2="317.9" stroke="#999" stroke-width="0.55"/>
<line x1="166.75" y1="317.0" x2="166.75" y2="317.9" stroke="#999" stroke-width="0.55"/>
<line x1="171.58" y1="317.0" x2="171.58" y2="317.9" stroke="#999" stroke-width="0.55"/>
<line x1="176.42" y1="317.0" x2="176.42" y2="317.9" stroke="#999" stroke-width="0.55"/>
<line x1="181.25" y1="317.0" x2="181.25" y2="317.9" stroke="#999" stroke-width="0.55"/>
<line x1="186.08" y1="317.0" x2="186.08" y2="317.9" stroke="#999" stroke-width="0.55"/>
<text transform="translate(18.4,273.7) rotate(-90)" text-anchor="middle" class="mv">MV</text>
<text transform="translate(113.5,329.2) scale(0.88,1)" text-anchor="middle" class="mn">Minutes</text>
<line x1="86" y1="313.6" x2="170" y2="313.6" stroke="#f88" stroke-width="0.45"/>
<line x1="100.3" y1="304.11" x2="100.3" y2="314.0" stroke="#f77" stroke-width="0.45"/>
<line x1="161.2" y1="310.0" x2="161.2" y2="314.5" stroke="#888" stroke-width="0.45"/>
<path d="M100.30,304.11 L100.55,304.25 L100.80,304.30 L101.05,304.25 L101.30,304.11 L101.55,303.91 L101.80,303.63 L102.05,303.29 L102.30,302.90 L102.55,302.46 L102.80,301.98 L103.05,301.47 L103.30,300.92 L103.55,300.35 L103.80,299.77 L104.05,299.17 L104.30,298.56 L104.55,297.95 L104.80,297.34 L105.05,296.74 L105.30,296.15 L105.55,295.58 L105.80,295.03 L106.05,294.51 L106.30,294.03 L106.55,293.59 L106.80,293.21 L107.05,292.90 L107.30,292.68 L107.55,292.60 L107.80,292.79 L108.05,293.12 L108.30,293.55 L108.55,294.05 L108.80,294.61 L109.05,295.21 L109.30,295.85 L109.55,296.52 L109.80,297.19 L110.05,297.88 L110.30,298.58 L110.55,299.27 L110.80,299.96 L111.05,300.64 L111.30,301.32 L111.55,301.99 L111.80,302.65 L112.05,303.31 L112.30,303.94 L112.55,304.56 L112.80,305.15 L113.05,305.72 L113.30,306.27 L113.55,306.79 L113.80,307.29 L114.05,307.76 L114.30,308.20 L114.55,308.61 L114.80,309.00 L115.05,309.35 L115.30,309.68 L115.55,309.96 L115.80,310.20 L116.05,310.40 L116.30,310.54 L116.55,310.62 L116.80,310.63 L117.05,310.58 L117.30,310.46 L117.55,310.29 L117.80,310.08 L118.05,309.86 L118.30,309.65 L118.55,309.49 L118.80,309.40 L119.05,309.40 L119.30,309.50 L119.55,309.68 L119.80,309.94 L120.05,310.25 L120.30,310.60 L120.55,310.96 L120.80,311.31 L121.05,311.63 L121.30,311.90 L121.55,312.13 L121.80,312.31 L122.05,312.43 L122.30,312.50 L122.55,312.52 L122.80,312.50 L123.05,312.43 L123.30,312.31 L123.55,312.15 L123.80,311.93 L124.05,311.66 L124.30,311.34 L124.55,310.97 L124.80,310.54 L125.05,310.07 L125.30,309.55 L125.55,309.00 L125.80,308.44 L126.05,307.87 L126.30,307.33 L126.55,306.82 L126.80,306.37 L127.05,306.00 L127.30,305.73 L127.55,305.55 L127.80,305.50 L128.05,305.54 L128.30,305.67 L128.55,305.89 L128.80,306.17 L129.05,306.53 L129.30,306.94 L129.55,307.38 L129.80,307.86 L130.05,308.35 L130.30,308.85 L130.55,309.33 L130.80,309.80 L131.05,310.24 L131.30,310.64 L131.55,311.01 L131.80,311.35 L132.05,311.64 L132.30,311.89 L132.55,312.11 L132.80,312.29 L133.05,312.44 L133.30,312.56 L133.55,312.66 L133.80,312.73 L134.05,312.79 L134.30,312.82 L134.55,312.84 L134.80,312.84 L135.05,312.83 L135.30,312.80 L135.55,312.75 L135.80,312.68 L136.05,312.59 L136.30,312.48 L136.55,312.34 L136.80,312.18 L137.05,312.01 L137.30,311.81 L137.55,311.61 L137.80,311.40 L138.05,311.19 L138.30,311.00 L138.55,310.82 L138.80,310.68 L139.05,310.58 L139.30,310.52 L139.55,310.50 L139.80,310.52 L140.05,310.58 L140.30,310.66 L140.55,310.77 L140.80,310.90 L141.05,311.05 L141.30,311.21 L141.55,311.38 L141.80,311.55 L142.05,311.72 L142.30,311.89 L142.55,312.04 L142.80,312.19 L143.05,312.32 L143.30,312.44 L143.55,312.54 L143.80,312.63 L144.05,312.71 L144.30,312.77 L144.55,312.82 L144.80,312.86 L145.05,312.90 L145.30,312.92 L145.55,312.94 L145.80,312.96" fill="none" stroke="#555" stroke-width="0.6"/>
<path d="M86.00,312.99 L86.25,312.99 L86.50,312.98 L86.75,312.98 L87.00,312.98 L87.25,312.97 L87.50,312.97 L87.75,312.97 L88.00,312.96 L88.25,312.96 L88.50,312.95 L88.75,312.94 L89.00,312.93 L89.25,312.92 L89.50,312.90 L89.75,312.88 L90.00,312.83 L90.25,312.75 L90.50,312.63 L90.75,312.43 L91.00,312.10 L91.25,311.61 L91.50,310.88 L91.75,309.83 L92.00,308.41 L92.25,306.54 L92.50,304.16 L92.75,301.17 L93.00,297.34 L93.25,292.20 L93.50,285.01 L93.75,275.06 L94.00,262.46 L94.25,248.97 L94.50,238.00 L94.75,232.93 L95.00,235.09 L95.25,243.16 L95.50,254.54 L95.75,266.17 L96.00,275.85 L96.25,282.80 L96.50,287.33 L96.75,290.22 L97.00,292.21 L97.25,293.77 L97.50,295.14 L97.75,296.42 L98.00,297.63 L98.25,298.77 L98.50,299.82 L98.75,300.76 L99.00,301.60 L99.25,302.33 L99.50,302.94 L99.75,303.43 L100.00,303.81 L100.25,304.07" fill="none" stroke="#f55" stroke-width="0.5"/>
<path d="M84.60,315.30 L86.10,312.70 L87.60,315.30 Z" fill="none" stroke="#f55" stroke-width="0.55"/>
<circle cx="100.6" cy="314.20" r="1.4" fill="none" stroke="#f55" stroke-width="0.55"/>
<circle cx="117.0" cy="314.20" r="1.4" fill="none" stroke="#f55" stroke-width="0.55"/>
<circle cx="123.2" cy="314.20" r="1.4" fill="none" stroke="#f55" stroke-width="0.55"/>
<circle cx="135.3" cy="314.20" r="1.4" fill="none" stroke="#f55" stroke-width="0.55"/>
<path d="M147.40,315.30 L148.90,312.70 L150.40,315.30 Z" fill="none" stroke="#f55" stroke-width="0.55"/>
<path d="M154.20,315.30 L155.70,312.70 L157.20,315.30 Z" fill="none" stroke="#f55" stroke-width="0.55"/>
<path d="M165.80,315.30 L167.30,312.70 L168.80,315.30 Z" fill="none" stroke="#f55" stroke-width="0.55"/>
<text transform="translate(96.50,243.95) rotate(-90)" text-anchor="middle" class="pl">6.046</text>
<text transform="translate(110.70,283.05) rotate(-90)" text-anchor="middle" class="pl">7.409</text>
<text transform="translate(121.40,299.35) rotate(-90)" text-anchor="middle" class="pl">8.596</text>
<text transform="translate(129.80,296.45) rotate(-90)" text-anchor="middle" class="pl">9.456</text>
<text transform="translate(141.50,299.55) rotate(-90)" text-anchor="middle" class="pl">10.705</text>
<text transform="translate(163.20,301.75) rotate(-90)" text-anchor="middle" class="pl">12.913</text>
<text x="127.4" y="248.0" class="de" style="font-size:7.4px" textLength="20.3" lengthAdjust="spacingAndGlyphs">DE&#160;&#160;18</text>
<path d="M242.2,234.2 L393.8,234.2 L393.8,317.5" fill="none" stroke="#d2d2d2" stroke-width="0.9"/>
<path d="M242.2,234.2 L242.2,317.5 L393.8,317.5" fill="none" stroke="#bdbdbd" stroke-width="0.8"/>
<line x1="242.2" y1="314.1" x2="393.8" y2="314.1" stroke="#d0d0d0" stroke-width="1.1"/>
<line x1="240.6" y1="314.10" x2="242.2" y2="314.10" stroke="#999" stroke-width="0.6"/>
<text transform="translate(240.00,316.20) scale(0.88,1)" text-anchor="end" class="tk">0.00</text>
<line x1="240.6" y1="294.98" x2="242.2" y2="294.98" stroke="#999" stroke-width="0.6"/>
<text transform="translate(240.00,297.08) scale(0.88,1)" text-anchor="end" class="tk">50.00</text>
<line x1="240.6" y1="275.85" x2="242.2" y2="275.85" stroke="#999" stroke-width="0.6"/>
<text transform="translate(240.00,277.95) scale(0.88,1)" text-anchor="end" class="tk">100.00</text>
<line x1="240.6" y1="256.73" x2="242.2" y2="256.73" stroke="#999" stroke-width="0.6"/>
<text transform="translate(240.00,258.83) scale(0.88,1)" text-anchor="end" class="tk">150.00</text>
<line x1="240.6" y1="237.60" x2="242.2" y2="237.60" stroke="#999" stroke-width="0.6"/>
<text transform="translate(240.00,239.70) scale(0.88,1)" text-anchor="end" class="tk">200.00</text>
<line x1="241.1" y1="314.10" x2="242.2" y2="314.10" stroke="#999" stroke-width="0.55"/>
<line x1="241.1" y1="310.28" x2="242.2" y2="310.28" stroke="#999" stroke-width="0.55"/>
<line x1="241.1" y1="306.45" x2="242.2" y2="306.45" stroke="#999" stroke-width="0.55"/>
<line x1="241.1" y1="302.62" x2="242.2" y2="302.62" stroke="#999" stroke-width="0.55"/>
<line x1="241.1" y1="298.80" x2="242.2" y2="298.80" stroke="#999" stroke-width="0.55"/>
<line x1="241.1" y1="294.98" x2="242.2" y2="294.98" stroke="#999" stroke-width="0.55"/>
<line x1="241.1" y1="291.15" x2="242.2" y2="291.15" stroke="#999" stroke-width="0.55"/>
<line x1="241.1" y1="287.33" x2="242.2" y2="287.33" stroke="#999" stroke-width="0.55"/>
<line x1="241.1" y1="283.50" x2="242.2" y2="283.50" stroke="#999" stroke-width="0.55"/>
<line x1="241.1" y1="279.68" x2="242.2" y2="279.68" stroke="#999" stroke-width="0.55"/>
<line x1="241.1" y1="275.85" x2="242.2" y2="275.85" stroke="#999" stroke-width="0.55"/>
<line x1="241.1" y1="272.03" x2="242.2" y2="272.03" stroke="#999" stroke-width="0.55"/>
<line x1="241.1" y1="268.20" x2="242.2" y2="268.20" stroke="#999" stroke-width="0.55"/>
<line x1="241.1" y1="264.38" x2="242.2" y2="264.38" stroke="#999" stroke-width="0.55"/>
<line x1="241.1" y1="260.55" x2="242.2" y2="260.55" stroke="#999" stroke-width="0.55"/>
<line x1="241.1" y1="256.73" x2="242.2" y2="256.73" stroke="#999" stroke-width="0.55"/>
<line x1="241.1" y1="252.90" x2="242.2" y2="252.90" stroke="#999" stroke-width="0.55"/>
<line x1="241.1" y1="249.08" x2="242.2" y2="249.08" stroke="#999" stroke-width="0.55"/>
<line x1="241.1" y1="245.25" x2="242.2" y2="245.25" stroke="#999" stroke-width="0.55"/>
<line x1="241.1" y1="241.43" x2="242.2" y2="241.43" stroke="#999" stroke-width="0.55"/>
<line x1="241.1" y1="237.60" x2="242.2" y2="237.60" stroke="#999" stroke-width="0.55"/>
<line x1="260.76" y1="317.5" x2="260.76" y2="319.1" stroke="#999" stroke-width="0.6"/>
<text transform="translate(260.76,324.30) scale(0.85,1)" text-anchor="middle" class="tk">2.00</text>
<line x1="279.72" y1="317.5" x2="279.72" y2="319.1" stroke="#999" stroke-width="0.6"/>
<text transform="translate(279.72,324.30) scale(0.85,1)" text-anchor="middle" class="tk">4.00</text>
<line x1="298.68" y1="317.5" x2="298.68" y2="319.1" stroke="#999" stroke-width="0.6"/>
<text transform="translate(298.68,324.30) scale(0.85,1)" text-anchor="middle" class="tk">6.00</text>
<line x1="317.64" y1="317.5" x2="317.64" y2="319.1" stroke="#999" stroke-width="0.6"/>
<text transform="translate(317.64,324.30) scale(0.85,1)" text-anchor="middle" class="tk">8.00</text>
<line x1="336.60" y1="317.5" x2="336.60" y2="319.1" stroke="#999" stroke-width="0.6"/>
<text transform="translate(336.60,324.30) scale(0.85,1)" text-anchor="middle" class="tk">10.00</text>
<line x1="355.56" y1="317.5" x2="355.56" y2="319.1" stroke="#999" stroke-width="0.6"/>
<text transform="translate(355.56,324.30) scale(0.85,1)" text-anchor="middle" class="tk">12.00</text>
<line x1="374.52" y1="317.5" x2="374.52" y2="319.1" stroke="#999" stroke-width="0.6"/>
<text transform="translate(374.52,324.30) scale(0.85,1)" text-anchor="middle" class="tk">14.00</text>
<line x1="393.48" y1="317.5" x2="393.48" y2="319.1" stroke="#999" stroke-width="0.6"/>
<text transform="translate(393.48,324.30) scale(0.85,1)" text-anchor="middle" class="tk">16.00</text>
<line x1="246.54" y1="317.5" x2="246.54" y2="318.4" stroke="#999" stroke-width="0.55"/>
<line x1="251.28" y1="317.5" x2="251.28" y2="318.4" stroke="#999" stroke-width="0.55"/>
<line x1="256.02" y1="317.5" x2="256.02" y2="318.4" stroke="#999" stroke-width="0.55"/>
<line x1="260.76" y1="317.5" x2="260.76" y2="318.4" stroke="#999" stroke-width="0.55"/>
<line x1="265.50" y1="317.5" x2="265.50" y2="318.4" stroke="#999" stroke-width="0.55"/>
<line x1="270.24" y1="317.5" x2="270.24" y2="318.4" stroke="#999" stroke-width="0.55"/>
<line x1="274.98" y1="317.5" x2="274.98" y2="318.4" stroke="#999" stroke-width="0.55"/>
<line x1="279.72" y1="317.5" x2="279.72" y2="318.4" stroke="#999" stroke-width="0.55"/>
<line x1="284.46" y1="317.5" x2="284.46" y2="318.4" stroke="#999" stroke-width="0.55"/>
<line x1="289.20" y1="317.5" x2="289.20" y2="318.4" stroke="#999" stroke-width="0.55"/>
<line x1="293.94" y1="317.5" x2="293.94" y2="318.4" stroke="#999" stroke-width="0.55"/>
<line x1="298.68" y1="317.5" x2="298.68" y2="318.4" stroke="#999" stroke-width="0.55"/>
<line x1="303.42" y1="317.5" x2="303.42" y2="318.4" stroke="#999" stroke-width="0.55"/>
<line x1="308.16" y1="317.5" x2="308.16" y2="318.4" stroke="#999" stroke-width="0.55"/>
<line x1="312.90" y1="317.5" x2="312.90" y2="318.4" stroke="#999" stroke-width="0.55"/>
<line x1="317.64" y1="317.5" x2="317.64" y2="318.4" stroke="#999" stroke-width="0.55"/>
<line x1="322.38" y1="317.5" x2="322.38" y2="318.4" stroke="#999" stroke-width="0.55"/>
<line x1="327.12" y1="317.5" x2="327.12" y2="318.4" stroke="#999" stroke-width="0.55"/>
<line x1="331.86" y1="317.5" x2="331.86" y2="318.4" stroke="#999" stroke-width="0.55"/>
<line x1="336.60" y1="317.5" x2="336.60" y2="318.4" stroke="#999" stroke-width="0.55"/>
<line x1="341.34" y1="317.5" x2="341.34" y2="318.4" stroke="#999" stroke-width="0.55"/>
<line x1="346.08" y1="317.5" x2="346.08" y2="318.4" stroke="#999" stroke-width="0.55"/>
<line x1="350.82" y1="317.5" x2="350.82" y2="318.4" stroke="#999" stroke-width="0.55"/>
<line x1="355.56" y1="317.5" x2="355.56" y2="318.4" stroke="#999" stroke-width="0.55"/>
<line x1="360.30" y1="317.5" x2="360.30" y2="318.4" stroke="#999" stroke-width="0.55"/>
<line x1="365.04" y1="317.5" x2="365.04" y2="318.4" stroke="#999" stroke-width="0.55"/>
<line x1="369.78" y1="317.5" x2="369.78" y2="318.4" stroke="#999" stroke-width="0.55"/>
<line x1="374.52" y1="317.5" x2="374.52" y2="318.4" stroke="#999" stroke-width="0.55"/>
<line x1="379.26" y1="317.5" x2="379.26" y2="318.4" stroke="#999" stroke-width="0.55"/>
<line x1="384.00" y1="317.5" x2="384.00" y2="318.4" stroke="#999" stroke-width="0.55"/>
<line x1="388.74" y1="317.5" x2="388.74" y2="318.4" stroke="#999" stroke-width="0.55"/>
<line x1="393.48" y1="317.5" x2="393.48" y2="318.4" stroke="#999" stroke-width="0.55"/>
<text transform="translate(224.5,275.7) rotate(-90)" text-anchor="middle" class="mv">MV</text>
<text transform="translate(317.6,329.6) scale(0.88,1)" text-anchor="middle" class="mn">Minutes</text>
<line x1="290" y1="314.70000000000005" x2="372" y2="314.70000000000005" stroke="#f88" stroke-width="0.45"/>
<line x1="306" y1="308.23" x2="306" y2="315.1" stroke="#f77" stroke-width="0.45"/>
<line x1="321" y1="309.53" x2="321" y2="315.1" stroke="#f77" stroke-width="0.45"/>
<line x1="364" y1="311.1" x2="364" y2="315.6" stroke="#888" stroke-width="0.45"/>
<path d="M306.00,308.23 L306.25,307.72 L306.50,307.08 L306.75,306.33 L307.00,305.48 L307.25,304.53 L307.50,303.47 L307.75,302.32 L308.00,301.07 L308.25,299.73 L308.50,298.30 L308.75,296.79 L309.00,295.21 L309.25,293.56 L309.50,291.86 L309.75,290.11 L310.00,288.34 L310.25,286.55 L310.50,284.79 L310.75,283.06 L311.00,281.41 L311.25,279.87 L311.50,278.51 L311.75,277.42 L312.00,277.36 L312.25,278.59 L312.50,280.41 L312.75,282.53 L313.00,284.74 L313.25,286.90 L313.50,288.89 L313.75,290.64 L314.00,292.14 L314.25,293.37 L314.50,294.36 L314.75,295.12 L315.00,295.70 L315.25,296.15 L315.50,296.51 L315.75,296.82 L316.00,297.12 L316.25,297.45 L316.50,297.81 L316.75,298.20 L317.00,298.64 L317.25,299.13 L317.50,299.68 L317.75,300.28 L318.00,300.94 L318.25,301.64 L318.50,302.38 L318.75,303.15 L319.00,303.94 L319.25,304.74 L319.50,305.53 L319.75,306.31 L320.00,307.07 L320.25,307.79 L320.50,308.46 L320.75,309.05 L321.00,309.53 L321.25,309.83 L321.50,309.87 L321.75,309.60 L322.00,308.98 L322.25,308.09 L322.50,307.11 L322.75,306.32 L323.00,305.98 L323.25,306.14 L323.50,306.40 L323.75,306.70 L324.00,307.05 L324.25,307.43 L324.50,307.84 L324.75,308.27 L325.00,308.71 L325.25,309.14 L325.50,309.57 L325.75,309.97 L326.00,310.33 L326.25,310.63 L326.50,310.87 L326.75,311.03 L327.00,311.11 L327.25,311.08 L327.50,310.94 L327.75,310.68 L328.00,310.31 L328.25,309.81 L328.50,309.20 L328.75,308.47 L329.00,307.65 L329.25,306.75 L329.50,305.79 L329.75,304.81 L330.00,303.83 L330.25,302.89 L330.50,302.03 L330.75,301.27 L331.00,300.66 L331.25,300.22 L331.50,299.96 L331.75,299.90 L332.00,300.04 L332.25,300.36 L332.50,300.85 L332.75,301.49 L333.00,302.26 L333.25,303.13 L333.50,304.07 L333.75,305.06 L334.00,306.05 L334.25,307.03 L334.50,307.98 L334.75,308.86 L335.00,309.68 L335.25,310.42 L335.50,311.08 L335.75,311.65 L336.00,312.14 L336.25,312.55 L336.50,312.89 L336.75,313.17 L337.00,313.39 L337.25,313.55 L337.50,313.68 L337.75,313.76 L338.00,313.81 L338.25,313.82 L338.50,313.80 L338.75,313.75 L339.00,313.66 L339.25,313.53 L339.50,313.35 L339.75,313.12 L340.00,312.84 L340.25,312.50 L340.50,312.10 L340.75,311.65 L341.00,311.15 L341.25,310.62 L341.50,310.07 L341.75,309.53 L342.00,309.00 L342.25,308.52 L342.50,308.11 L342.75,307.80 L343.00,307.59 L343.25,307.50 L343.50,307.54 L343.75,307.70 L344.00,307.98 L344.25,308.36 L344.50,308.82 L344.75,309.33 L345.00,309.87 L345.25,310.43 L345.50,310.97 L345.75,311.49 L346.00,311.96 L346.25,312.38 L346.50,312.74 L346.75,313.05 L347.00,313.30 L347.25,313.51 L347.50,313.67 L347.75,313.79 L348.00,313.88 L348.25,313.95 L348.50,314.00 L348.75,314.03 L349.00,314.06 L349.25,314.07 L349.50,314.08 L349.75,314.09 L350.00,314.09 L350.25,314.10 L350.50,314.10 L350.75,314.10 L351.00,314.10 L351.25,314.10 L351.50,314.10 L351.75,314.10 L352.00,314.10 L352.25,314.10 L352.50,314.10 L352.75,314.10 L353.00,314.10 L353.25,314.10 L353.50,314.10 L353.75,314.10 L354.00,314.10 L354.25,314.10 L354.50,314.09 L354.75,314.09 L355.00,314.09 L355.25,314.09 L355.50,314.09 L355.75,314.08 L356.00,314.08" fill="none" stroke="#555" stroke-width="0.6"/>
<path d="M290.00,314.10 L290.25,314.10 L290.50,314.10 L290.75,314.10 L291.00,314.10 L291.25,314.10 L291.50,314.10 L291.75,314.10 L292.00,314.10 L292.25,314.10 L292.50,314.10 L292.75,314.10 L293.00,314.10 L293.25,314.10 L293.50,314.10 L293.75,314.09 L294.00,314.08 L294.25,314.07 L294.50,314.03 L294.75,313.97 L295.00,313.85 L295.25,313.65 L295.50,313.32 L295.75,312.79 L296.00,311.97 L296.25,310.75 L296.50,309.01 L296.75,306.59 L297.00,303.30 L297.25,298.94 L297.50,293.25 L297.75,286.01 L298.00,277.17 L298.25,267.04 L298.50,256.46 L298.75,246.86 L299.00,239.93 L299.25,237.13 L299.50,238.36 L299.75,242.83 L300.00,249.62 L300.25,257.48 L300.50,265.26 L300.75,272.18 L301.00,277.96 L301.25,282.65 L301.50,286.49 L301.75,289.74 L302.00,292.60 L302.25,295.19 L302.50,297.55 L302.75,299.69 L303.00,301.62 L303.25,303.32 L303.50,304.79 L303.75,306.03 L304.00,307.03 L304.25,307.82 L304.50,308.39 L304.75,308.78 L305.00,308.98 L305.25,309.01 L305.50,308.89 L305.75,308.63 L306.00,308.23" fill="none" stroke="#f55" stroke-width="0.5"/>
<path d="M357.50,314.02 L357.75,314.01 L358.00,313.99 L358.25,313.97 L358.50,313.95 L358.75,313.93 L359.00,313.90 L359.25,313.87 L359.50,313.84 L359.75,313.81 L360.00,313.77 L360.25,313.73 L360.50,313.69 L360.75,313.66 L361.00,313.61 L361.25,313.57 L361.50,313.53 L361.75,313.50 L362.00,313.46 L362.25,313.43 L362.50,313.39 L362.75,313.37 L363.00,313.34 L363.25,313.32 L363.50,313.31 L363.75,313.30 L364.00,313.30 L364.25,313.30 L364.50,313.31 L364.75,313.32 L365.00,313.34 L365.25,313.37 L365.50,313.39 L365.75,313.43 L366.00,313.46 L366.25,313.50 L366.50,313.53 L366.75,313.57 L367.00,313.61 L367.25,313.66 L367.50,313.69 L367.75,313.73 L368.00,313.77 L368.25,313.81 L368.50,313.84 L368.75,313.87 L369.00,313.90 L369.25,313.93 L369.50,313.95 L369.75,313.97 L370.00,313.99 L370.25,314.01 L370.50,314.02" fill="none" stroke="#f55" stroke-width="0.5"/>
<path d="M288.60,316.40 L290.10,313.80 L291.60,316.40 Z" fill="none" stroke="#f55" stroke-width="0.55"/>
<circle cx="305.7" cy="315.30" r="1.4" fill="none" stroke="#f55" stroke-width="0.55"/>
<circle cx="320.9" cy="315.30" r="1.4" fill="none" stroke="#f55" stroke-width="0.55"/>
<circle cx="327.3" cy="315.30" r="1.4" fill="none" stroke="#f55" stroke-width="0.55"/>
<circle cx="338.4" cy="315.30" r="1.4" fill="none" stroke="#f55" stroke-width="0.55"/>
<path d="M351.70,316.40 L353.20,313.80 L354.70,316.40 Z" fill="none" stroke="#f55" stroke-width="0.55"/>
<circle cx="359.7" cy="315.30" r="1.4" fill="none" stroke="#f55" stroke-width="0.55"/>
<circle cx="368.8" cy="315.30" r="1.4" fill="none" stroke="#f55" stroke-width="0.55"/>
<text transform="translate(301.30,246.80) rotate(-90)" text-anchor="middle" class="pl">6.038</text>
<text transform="translate(314.50,269.85) rotate(-90)" text-anchor="middle" class="pl">7.428</text>
<text transform="translate(325.00,297.30) rotate(-90)" text-anchor="middle" class="pl">8.570</text>
<text transform="translate(333.40,291.60) rotate(-90)" text-anchor="middle" class="pl">9.435</text>
<text transform="translate(345.30,296.75) rotate(-90)" text-anchor="middle" class="pl">10.694</text>
<text transform="translate(366.00,303.25) rotate(-90)" text-anchor="middle" class="pl">12.897</text>
<text x="338.6" y="253.0" class="de" style="font-size:7.4px" textLength="22.0" lengthAdjust="spacingAndGlyphs">DE&#160;&#160;&#160;22</text>
<path d="M27.2,348.0 L188.7,348.0 L188.7,430.0" fill="none" stroke="#d2d2d2" stroke-width="0.9"/>
<path d="M27.2,348.0 L27.2,430.0 L188.7,430.0" fill="none" stroke="#bdbdbd" stroke-width="0.8"/>
<line x1="27.2" y1="426.2" x2="188.7" y2="426.2" stroke="#d0d0d0" stroke-width="1.1"/>
<line x1="25.599999999999998" y1="426.20" x2="27.2" y2="426.20" stroke="#999" stroke-width="0.6"/>
<text transform="translate(25.00,428.30) scale(0.88,1)" text-anchor="end" class="tk">0.00</text>
<line x1="25.599999999999998" y1="410.32" x2="27.2" y2="410.32" stroke="#999" stroke-width="0.6"/>
<text transform="translate(25.00,412.43) scale(0.88,1)" text-anchor="end" class="tk">50.00</text>
<line x1="25.599999999999998" y1="394.45" x2="27.2" y2="394.45" stroke="#999" stroke-width="0.6"/>
<text transform="translate(25.00,396.55) scale(0.88,1)" text-anchor="end" class="tk">100.00</text>
<line x1="25.599999999999998" y1="378.57" x2="27.2" y2="378.57" stroke="#999" stroke-width="0.6"/>
<text transform="translate(25.00,380.68) scale(0.88,1)" text-anchor="end" class="tk">150.00</text>
<line x1="25.599999999999998" y1="362.70" x2="27.2" y2="362.70" stroke="#999" stroke-width="0.6"/>
<text transform="translate(25.00,364.80) scale(0.88,1)" text-anchor="end" class="tk">200.00</text>
<line x1="26.099999999999998" y1="426.20" x2="27.2" y2="426.20" stroke="#999" stroke-width="0.55"/>
<line x1="26.099999999999998" y1="423.02" x2="27.2" y2="423.02" stroke="#999" stroke-width="0.55"/>
<line x1="26.099999999999998" y1="419.85" x2="27.2" y2="419.85" stroke="#999" stroke-width="0.55"/>
<line x1="26.099999999999998" y1="416.68" x2="27.2" y2="416.68" stroke="#999" stroke-width="0.55"/>
<line x1="26.099999999999998" y1="413.50" x2="27.2" y2="413.50" stroke="#999" stroke-width="0.55"/>
<line x1="26.099999999999998" y1="410.32" x2="27.2" y2="410.32" stroke="#999" stroke-width="0.55"/>
<line x1="26.099999999999998" y1="407.15" x2="27.2" y2="407.15" stroke="#999" stroke-width="0.55"/>
<line x1="26.099999999999998" y1="403.97" x2="27.2" y2="403.97" stroke="#999" stroke-width="0.55"/>
<line x1="26.099999999999998" y1="400.80" x2="27.2" y2="400.80" stroke="#999" stroke-width="0.55"/>
<line x1="26.099999999999998" y1="397.62" x2="27.2" y2="397.62" stroke="#999" stroke-width="0.55"/>
<line x1="26.099999999999998" y1="394.45" x2="27.2" y2="394.45" stroke="#999" stroke-width="0.55"/>
<line x1="26.099999999999998" y1="391.27" x2="27.2" y2="391.27" stroke="#999" stroke-width="0.55"/>
<line x1="26.099999999999998" y1="388.10" x2="27.2" y2="388.10" stroke="#999" stroke-width="0.55"/>
<line x1="26.099999999999998" y1="384.93" x2="27.2" y2="384.93" stroke="#999" stroke-width="0.55"/>
<line x1="26.099999999999998" y1="381.75" x2="27.2" y2="381.75" stroke="#999" stroke-width="0.55"/>
<line x1="26.099999999999998" y1="378.57" x2="27.2" y2="378.57" stroke="#999" stroke-width="0.55"/>
<line x1="26.099999999999998" y1="375.40" x2="27.2" y2="375.40" stroke="#999" stroke-width="0.55"/>
<line x1="26.099999999999998" y1="372.22" x2="27.2" y2="372.22" stroke="#999" stroke-width="0.55"/>
<line x1="26.099999999999998" y1="369.05" x2="27.2" y2="369.05" stroke="#999" stroke-width="0.55"/>
<line x1="26.099999999999998" y1="365.88" x2="27.2" y2="365.88" stroke="#999" stroke-width="0.55"/>
<line x1="26.099999999999998" y1="362.70" x2="27.2" y2="362.70" stroke="#999" stroke-width="0.55"/>
<line x1="26.099999999999998" y1="359.52" x2="27.2" y2="359.52" stroke="#999" stroke-width="0.55"/>
<line x1="26.099999999999998" y1="356.35" x2="27.2" y2="356.35" stroke="#999" stroke-width="0.55"/>
<line x1="26.099999999999998" y1="353.17" x2="27.2" y2="353.17" stroke="#999" stroke-width="0.55"/>
<line x1="26.099999999999998" y1="350.00" x2="27.2" y2="350.00" stroke="#999" stroke-width="0.55"/>
<line x1="47.30" y1="430.0" x2="47.30" y2="431.6" stroke="#999" stroke-width="0.6"/>
<text transform="translate(47.30,436.80) scale(0.85,1)" text-anchor="middle" class="tk">2.00</text>
<line x1="67.50" y1="430.0" x2="67.50" y2="431.6" stroke="#999" stroke-width="0.6"/>
<text transform="translate(67.50,436.80) scale(0.85,1)" text-anchor="middle" class="tk">4.00</text>
<line x1="87.70" y1="430.0" x2="87.70" y2="431.6" stroke="#999" stroke-width="0.6"/>
<text transform="translate(87.70,436.80) scale(0.85,1)" text-anchor="middle" class="tk">6.00</text>
<line x1="107.90" y1="430.0" x2="107.90" y2="431.6" stroke="#999" stroke-width="0.6"/>
<text transform="translate(107.90,436.80) scale(0.85,1)" text-anchor="middle" class="tk">8.00</text>
<line x1="128.10" y1="430.0" x2="128.10" y2="431.6" stroke="#999" stroke-width="0.6"/>
<text transform="translate(128.10,436.80) scale(0.85,1)" text-anchor="middle" class="tk">10.00</text>
<line x1="148.30" y1="430.0" x2="148.30" y2="431.6" stroke="#999" stroke-width="0.6"/>
<text transform="translate(148.30,436.80) scale(0.85,1)" text-anchor="middle" class="tk">12.00</text>
<line x1="168.50" y1="430.0" x2="168.50" y2="431.6" stroke="#999" stroke-width="0.6"/>
<text transform="translate(168.50,436.80) scale(0.85,1)" text-anchor="middle" class="tk">14.00</text>
<line x1="188.70" y1="430.0" x2="188.70" y2="431.6" stroke="#999" stroke-width="0.6"/>
<text transform="translate(188.70,436.80) scale(0.85,1)" text-anchor="middle" class="tk">16.00</text>
<line x1="32.15" y1="430.0" x2="32.15" y2="430.9" stroke="#999" stroke-width="0.55"/>
<line x1="37.20" y1="430.0" x2="37.20" y2="430.9" stroke="#999" stroke-width="0.55"/>
<line x1="42.25" y1="430.0" x2="42.25" y2="430.9" stroke="#999" stroke-width="0.55"/>
<line x1="47.30" y1="430.0" x2="47.30" y2="430.9" stroke="#999" stroke-width="0.55"/>
<line x1="52.35" y1="430.0" x2="52.35" y2="430.9" stroke="#999" stroke-width="0.55"/>
<line x1="57.40" y1="430.0" x2="57.40" y2="430.9" stroke="#999" stroke-width="0.55"/>
<line x1="62.45" y1="430.0" x2="62.45" y2="430.9" stroke="#999" stroke-width="0.55"/>
<line x1="67.50" y1="430.0" x2="67.50" y2="430.9" stroke="#999" stroke-width="0.55"/>
<line x1="72.55" y1="430.0" x2="72.55" y2="430.9" stroke="#999" stroke-width="0.55"/>
<line x1="77.60" y1="430.0" x2="77.60" y2="430.9" stroke="#999" stroke-width="0.55"/>
<line x1="82.65" y1="430.0" x2="82.65" y2="430.9" stroke="#999" stroke-width="0.55"/>
<line x1="87.70" y1="430.0" x2="87.70" y2="430.9" stroke="#999" stroke-width="0.55"/>
<line x1="92.75" y1="430.0" x2="92.75" y2="430.9" stroke="#999" stroke-width="0.55"/>
<line x1="97.80" y1="430.0" x2="97.80" y2="430.9" stroke="#999" stroke-width="0.55"/>
<line x1="102.85" y1="430.0" x2="102.85" y2="430.9" stroke="#999" stroke-width="0.55"/>
<line x1="107.90" y1="430.0" x2="107.90" y2="430.9" stroke="#999" stroke-width="0.55"/>
<line x1="112.95" y1="430.0" x2="112.95" y2="430.9" stroke="#999" stroke-width="0.55"/>
<line x1="118.00" y1="430.0" x2="118.00" y2="430.9" stroke="#999" stroke-width="0.55"/>
<line x1="123.05" y1="430.0" x2="123.05" y2="430.9" stroke="#999" stroke-width="0.55"/>
<line x1="128.10" y1="430.0" x2="128.10" y2="430.9" stroke="#999" stroke-width="0.55"/>
<line x1="133.15" y1="430.0" x2="133.15" y2="430.9" stroke="#999" stroke-width="0.55"/>
<line x1="138.20" y1="430.0" x2="138.20" y2="430.9" stroke="#999" stroke-width="0.55"/>
<line x1="143.25" y1="430.0" x2="143.25" y2="430.9" stroke="#999" stroke-width="0.55"/>
<line x1="148.30" y1="430.0" x2="148.30" y2="430.9" stroke="#999" stroke-width="0.55"/>
<line x1="153.35" y1="430.0" x2="153.35" y2="430.9" stroke="#999" stroke-width="0.55"/>
<line x1="158.40" y1="430.0" x2="158.40" y2="430.9" stroke="#999" stroke-width="0.55"/>
<line x1="163.45" y1="430.0" x2="163.45" y2="430.9" stroke="#999" stroke-width="0.55"/>
<line x1="168.50" y1="430.0" x2="168.50" y2="430.9" stroke="#999" stroke-width="0.55"/>
<line x1="173.55" y1="430.0" x2="173.55" y2="430.9" stroke="#999" stroke-width="0.55"/>
<line x1="178.60" y1="430.0" x2="178.60" y2="430.9" stroke="#999" stroke-width="0.55"/>
<line x1="183.65" y1="430.0" x2="183.65" y2="430.9" stroke="#999" stroke-width="0.55"/>
<line x1="188.70" y1="430.0" x2="188.70" y2="430.9" stroke="#999" stroke-width="0.55"/>
<text transform="translate(8.2,389.2) rotate(-90)" text-anchor="middle" class="mv">MV</text>
<text transform="translate(107.75,441.8) scale(0.88,1)" text-anchor="middle" class="mn">Minutes</text>
<line x1="81" y1="426.8" x2="167" y2="426.8" stroke="#f88" stroke-width="0.45"/>
<line x1="95.7" y1="419.97" x2="95.7" y2="427.2" stroke="#f77" stroke-width="0.45"/>
<line x1="106.2" y1="405.62" x2="106.2" y2="427.2" stroke="#f77" stroke-width="0.45"/>
<line x1="111.2" y1="419.89" x2="111.2" y2="427.2" stroke="#f77" stroke-width="0.45"/>
<line x1="157.4" y1="423.2" x2="157.4" y2="427.7" stroke="#888" stroke-width="0.45"/>
<path d="M95.70,419.97 L95.95,419.55 L96.20,419.03 L96.45,418.43 L96.70,417.74 L96.95,416.98 L97.20,416.13 L97.45,415.21 L97.70,414.21 L97.95,413.14 L98.20,412.01 L98.45,410.81 L98.70,409.55 L98.95,408.23 L99.20,406.87 L99.45,405.47 L99.70,404.04 L99.95,402.60 L100.20,401.15 L100.45,399.72 L100.70,398.31 L100.95,396.96 L101.20,395.70 L101.45,394.54 L101.70,393.57 L101.95,392.99 L102.20,394.07 L102.45,395.84 L102.70,397.87 L102.95,399.92 L103.20,401.83 L103.45,403.49 L103.70,404.83 L103.95,405.81 L104.20,406.44 L104.45,406.74 L104.70,406.77 L104.95,406.59 L105.20,406.28 L105.45,405.95 L105.70,405.68 L105.95,405.55 L106.20,405.62 L106.45,405.95 L106.70,406.44 L106.95,407.04 L107.20,407.75 L107.45,408.57 L107.70,409.49 L107.95,410.50 L108.20,411.57 L108.45,412.68 L108.70,413.81 L108.95,414.93 L109.20,416.01 L109.45,417.01 L109.70,417.91 L109.95,418.68 L110.20,419.29 L110.45,419.73 L110.70,419.97 L110.95,420.02 L111.20,419.89 L111.45,419.61 L111.70,419.22 L111.95,418.79 L112.20,418.38 L112.45,418.05 L112.70,417.87 L112.95,417.87 L113.20,418.03 L113.45,418.24 L113.70,418.50 L113.95,418.81 L114.20,419.17 L114.45,419.56 L114.70,419.99 L114.95,420.44 L115.20,420.90 L115.45,421.36 L115.70,421.81 L115.95,422.24 L116.20,422.64 L116.45,422.99 L116.70,423.29 L116.95,423.52 L117.20,423.68 L117.45,423.75 L117.70,423.73 L117.95,423.61 L118.20,423.38 L118.45,423.03 L118.70,422.58 L118.95,422.00 L119.20,421.32 L119.45,420.53 L119.70,419.65 L119.95,418.70 L120.20,417.70 L120.45,416.69 L120.70,415.68 L120.95,414.72 L121.20,413.84 L121.45,413.08 L121.70,412.46 L121.95,412.01 L122.20,411.75 L122.45,411.69 L122.70,411.78 L122.95,412.01 L123.20,412.36 L123.45,412.83 L123.70,413.39 L123.95,414.05 L124.20,414.78 L124.45,415.57 L124.70,416.39 L124.95,417.23 L125.20,418.07 L125.45,418.91 L125.70,419.72 L125.95,420.49 L126.20,421.21 L126.45,421.89 L126.70,422.50 L126.95,423.06 L127.20,423.56 L127.45,424.00 L127.70,424.38 L127.95,424.70 L128.20,424.98 L128.45,425.21 L128.70,425.40 L128.95,425.54 L129.20,425.65 L129.45,425.73 L129.70,425.77 L129.95,425.78 L130.20,425.75 L130.45,425.69 L130.70,425.59 L130.95,425.46 L131.20,425.27 L131.45,425.05 L131.70,424.77 L131.95,424.45 L132.20,424.08 L132.45,423.67 L132.70,423.22 L132.95,422.74 L133.20,422.25 L133.45,421.77 L133.70,421.29 L133.95,420.85 L134.20,420.46 L134.45,420.14 L134.70,419.90 L134.95,419.75 L135.20,419.70 L135.45,419.74 L135.70,419.84 L135.95,420.01 L136.20,420.24 L136.45,420.52 L136.70,420.85 L136.95,421.22 L137.20,421.61 L137.45,422.01 L137.70,422.42 L137.95,422.83 L138.20,423.22 L138.45,423.60 L138.70,423.96 L138.95,424.28 L139.20,424.58 L139.45,424.84 L139.70,425.08 L139.95,425.28 L140.20,425.46 L140.45,425.61 L140.70,425.73 L140.95,425.83 L141.20,425.91 L141.45,425.98 L141.70,426.03 L141.95,426.08 L142.20,426.11 L142.45,426.13 L142.70,426.15 L142.95,426.16" fill="none" stroke="#555" stroke-width="0.6"/>
<path d="M81.00,426.20 L81.25,426.20 L81.50,426.20 L81.75,426.20 L82.00,426.20 L82.25,426.20 L82.50,426.19 L82.75,426.19 L83.00,426.18 L83.25,426.16 L83.50,426.12 L83.75,426.06 L84.00,425.95 L84.25,425.76 L84.50,425.46 L84.75,424.99 L85.00,424.29 L85.25,423.29 L85.50,421.91 L85.75,420.07 L86.00,417.67 L86.25,414.57 L86.50,410.47 L86.75,404.90 L87.00,397.22 L87.25,386.99 L87.50,374.58 L87.75,361.73 L88.00,351.42 L88.25,348.80 L88.50,348.80 L88.75,355.69 L89.00,365.90 L89.25,376.58 L89.50,385.77 L89.75,392.65 L90.00,397.39 L90.25,400.61 L90.50,402.95 L90.75,404.88 L91.00,406.62 L91.25,408.29 L91.50,409.89 L91.75,411.42 L92.00,412.87 L92.25,414.22 L92.50,415.46 L92.75,416.57 L93.00,417.55 L93.25,418.39 L93.50,419.10 L93.75,419.68 L94.00,420.12 L94.25,420.43 L94.50,420.62 L94.75,420.69 L95.00,420.65 L95.25,420.50 L95.50,420.24" fill="none" stroke="#f55" stroke-width="0.5"/>
<path d="M153.00,426.20 L153.25,426.20 L153.50,426.20 L153.75,426.20 L154.00,426.20 L154.25,426.20 L154.50,426.20 L154.75,426.20 L155.00,426.20 L155.25,426.20 L155.50,426.20 L155.75,426.20 L156.00,426.20 L156.25,426.20 L156.50,426.20 L156.75,426.20 L157.00,426.20 L157.25,426.20 L157.50,426.20 L157.75,426.20 L158.00,426.20 L158.25,426.20 L158.50,426.20 L158.75,426.20 L159.00,426.20 L159.25,426.20 L159.50,426.20 L159.75,426.20 L160.00,426.20 L160.25,426.20 L160.50,426.20 L160.75,426.20 L161.00,426.20 L161.25,426.20 L161.50,426.20 L161.75,426.20 L162.00,426.20 L162.25,426.20 L162.50,426.20 L162.75,426.20" fill="none" stroke="#f55" stroke-width="0.9"/>
<path d="M80.00,428.50 L81.50,425.90 L83.00,428.50 Z" fill="none" stroke="#f55" stroke-width="0.55"/>
<circle cx="96" cy="427.40" r="1.4" fill="none" stroke="#f55" stroke-width="0.55"/>
<circle cx="105.4" cy="427.40" r="1.4" fill="none" stroke="#f55" stroke-width="0.55"/>
<circle cx="111.2" cy="427.40" r="1.4" fill="none" stroke="#f55" stroke-width="0.55"/>
<circle cx="118.2" cy="427.40" r="1.4" fill="none" stroke="#f55" stroke-width="0.55"/>
<circle cx="130" cy="427.40" r="1.4" fill="none" stroke="#f55" stroke-width="0.55"/>
<circle cx="150.1" cy="427.40" r="1.4" fill="none" stroke="#f55" stroke-width="0.55"/>
<path d="M164.60,428.50 L166.10,425.90 L167.60,428.50 Z" fill="none" stroke="#f55" stroke-width="0.55"/>
<text transform="translate(90.30,360.45) rotate(-90)" text-anchor="middle" class="pl">6.043</text>
<text transform="translate(104.20,386.30) rotate(-90)" text-anchor="middle" class="pl">7.437</text>
<text transform="translate(108.60,397.15) rotate(-90)" text-anchor="middle" class="pl">7.900</text>
<text transform="translate(115.40,410.20) rotate(-90)" text-anchor="middle" class="pl">8.560</text>
<text transform="translate(124.50,402.95) rotate(-90)" text-anchor="middle" class="pl">9.438</text>
<text transform="translate(137.20,409.90) rotate(-90)" text-anchor="middle" class="pl">10.694</text>
<text transform="translate(159.40,415.00) rotate(-90)" text-anchor="middle" class="pl">12.922</text>
<text x="152.6" y="368.0" class="de" style="font-size:7.4px" textLength="21.7" lengthAdjust="spacingAndGlyphs">DE&#160;&#160;&#160;26</text>
<path d="M244.2,347.3 L403.3,347.3 L403.3,429.8" fill="none" stroke="#d2d2d2" stroke-width="0.9"/>
<path d="M244.2,347.3 L244.2,429.8 L403.3,429.8" fill="none" stroke="#bdbdbd" stroke-width="0.8"/>
<line x1="244.2" y1="426.4" x2="403.3" y2="426.4" stroke="#d0d0d0" stroke-width="1.1"/>
<line x1="242.6" y1="426.40" x2="244.2" y2="426.40" stroke="#999" stroke-width="0.6"/>
<text transform="translate(242.00,428.50) scale(0.88,1)" text-anchor="end" class="tk">0.00</text>
<line x1="242.6" y1="410.94" x2="244.2" y2="410.94" stroke="#999" stroke-width="0.6"/>
<text transform="translate(242.00,413.04) scale(0.88,1)" text-anchor="end" class="tk">50.00</text>
<line x1="242.6" y1="395.48" x2="244.2" y2="395.48" stroke="#999" stroke-width="0.6"/>
<text transform="translate(242.00,397.58) scale(0.88,1)" text-anchor="end" class="tk">100.00</text>
<line x1="242.6" y1="380.02" x2="244.2" y2="380.02" stroke="#999" stroke-width="0.6"/>
<text transform="translate(242.00,382.12) scale(0.88,1)" text-anchor="end" class="tk">150.00</text>
<line x1="242.6" y1="364.56" x2="244.2" y2="364.56" stroke="#999" stroke-width="0.6"/>
<text transform="translate(242.00,366.66) scale(0.88,1)" text-anchor="end" class="tk">200.00</text>
<line x1="242.6" y1="349.10" x2="244.2" y2="349.10" stroke="#999" stroke-width="0.6"/>
<text transform="translate(242.00,351.20) scale(0.88,1)" text-anchor="end" class="tk">250.00</text>
<line x1="243.1" y1="426.40" x2="244.2" y2="426.40" stroke="#999" stroke-width="0.55"/>
<line x1="243.1" y1="423.31" x2="244.2" y2="423.31" stroke="#999" stroke-width="0.55"/>
<line x1="243.1" y1="420.22" x2="244.2" y2="420.22" stroke="#999" stroke-width="0.55"/>
<line x1="243.1" y1="417.12" x2="244.2" y2="417.12" stroke="#999" stroke-width="0.55"/>
<line x1="243.1" y1="414.03" x2="244.2" y2="414.03" stroke="#999" stroke-width="0.55"/>
<line x1="243.1" y1="410.94" x2="244.2" y2="410.94" stroke="#999" stroke-width="0.55"/>
<line x1="243.1" y1="407.85" x2="244.2" y2="407.85" stroke="#999" stroke-width="0.55"/>
<line x1="243.1" y1="404.76" x2="244.2" y2="404.76" stroke="#999" stroke-width="0.55"/>
<line x1="243.1" y1="401.66" x2="244.2" y2="401.66" stroke="#999" stroke-width="0.55"/>
<line x1="243.1" y1="398.57" x2="244.2" y2="398.57" stroke="#999" stroke-width="0.55"/>
<line x1="243.1" y1="395.48" x2="244.2" y2="395.48" stroke="#999" stroke-width="0.55"/>
<line x1="243.1" y1="392.39" x2="244.2" y2="392.39" stroke="#999" stroke-width="0.55"/>
<line x1="243.1" y1="389.30" x2="244.2" y2="389.30" stroke="#999" stroke-width="0.55"/>
<line x1="243.1" y1="386.20" x2="244.2" y2="386.20" stroke="#999" stroke-width="0.55"/>
<line x1="243.1" y1="383.11" x2="244.2" y2="383.11" stroke="#999" stroke-width="0.55"/>
<line x1="243.1" y1="380.02" x2="244.2" y2="380.02" stroke="#999" stroke-width="0.55"/>
<line x1="243.1" y1="376.93" x2="244.2" y2="376.93" stroke="#999" stroke-width="0.55"/>
<line x1="243.1" y1="373.84" x2="244.2" y2="373.84" stroke="#999" stroke-width="0.55"/>
<line x1="243.1" y1="370.74" x2="244.2" y2="370.74" stroke="#999" stroke-width="0.55"/>
<line x1="243.1" y1="367.65" x2="244.2" y2="367.65" stroke="#999" stroke-width="0.55"/>
<line x1="243.1" y1="364.56" x2="244.2" y2="364.56" stroke="#999" stroke-width="0.55"/>
<line x1="243.1" y1="361.47" x2="244.2" y2="361.47" stroke="#999" stroke-width="0.55"/>
<line x1="243.1" y1="358.38" x2="244.2" y2="358.38" stroke="#999" stroke-width="0.55"/>
<line x1="243.1" y1="355.28" x2="244.2" y2="355.28" stroke="#999" stroke-width="0.55"/>
<line x1="243.1" y1="352.19" x2="244.2" y2="352.19" stroke="#999" stroke-width="0.55"/>
<line x1="243.1" y1="349.10" x2="244.2" y2="349.10" stroke="#999" stroke-width="0.55"/>
<line x1="263.95" y1="429.8" x2="263.95" y2="431.40000000000003" stroke="#999" stroke-width="0.6"/>
<text transform="translate(263.95,436.60) scale(0.85,1)" text-anchor="middle" class="tk">2.00</text>
<line x1="283.90" y1="429.8" x2="283.90" y2="431.40000000000003" stroke="#999" stroke-width="0.6"/>
<text transform="translate(283.90,436.60) scale(0.85,1)" text-anchor="middle" class="tk">4.00</text>
<line x1="303.85" y1="429.8" x2="303.85" y2="431.40000000000003" stroke="#999" stroke-width="0.6"/>
<text transform="translate(303.85,436.60) scale(0.85,1)" text-anchor="middle" class="tk">6.00</text>
<line x1="323.80" y1="429.8" x2="323.80" y2="431.40000000000003" stroke="#999" stroke-width="0.6"/>
<text transform="translate(323.80,436.60) scale(0.85,1)" text-anchor="middle" class="tk">8.00</text>
<line x1="343.75" y1="429.8" x2="343.75" y2="431.40000000000003" stroke="#999" stroke-width="0.6"/>
<text transform="translate(343.75,436.60) scale(0.85,1)" text-anchor="middle" class="tk">10.00</text>
<line x1="363.70" y1="429.8" x2="363.70" y2="431.40000000000003" stroke="#999" stroke-width="0.6"/>
<text transform="translate(363.70,436.60) scale(0.85,1)" text-anchor="middle" class="tk">12.00</text>
<line x1="383.65" y1="429.8" x2="383.65" y2="431.40000000000003" stroke="#999" stroke-width="0.6"/>
<text transform="translate(383.65,436.60) scale(0.85,1)" text-anchor="middle" class="tk">14.00</text>
<line x1="403.60" y1="429.8" x2="403.60" y2="431.40000000000003" stroke="#999" stroke-width="0.6"/>
<text transform="translate(403.60,436.60) scale(0.85,1)" text-anchor="middle" class="tk">16.00</text>
<line x1="248.99" y1="429.8" x2="248.99" y2="430.7" stroke="#999" stroke-width="0.55"/>
<line x1="253.97" y1="429.8" x2="253.97" y2="430.7" stroke="#999" stroke-width="0.55"/>
<line x1="258.96" y1="429.8" x2="258.96" y2="430.7" stroke="#999" stroke-width="0.55"/>
<line x1="263.95" y1="429.8" x2="263.95" y2="430.7" stroke="#999" stroke-width="0.55"/>
<line x1="268.94" y1="429.8" x2="268.94" y2="430.7" stroke="#999" stroke-width="0.55"/>
<line x1="273.93" y1="429.8" x2="273.93" y2="430.7" stroke="#999" stroke-width="0.55"/>
<line x1="278.91" y1="429.8" x2="278.91" y2="430.7" stroke="#999" stroke-width="0.55"/>
<line x1="283.90" y1="429.8" x2="283.90" y2="430.7" stroke="#999" stroke-width="0.55"/>
<line x1="288.89" y1="429.8" x2="288.89" y2="430.7" stroke="#999" stroke-width="0.55"/>
<line x1="293.88" y1="429.8" x2="293.88" y2="430.7" stroke="#999" stroke-width="0.55"/>
<line x1="298.86" y1="429.8" x2="298.86" y2="430.7" stroke="#999" stroke-width="0.55"/>
<line x1="303.85" y1="429.8" x2="303.85" y2="430.7" stroke="#999" stroke-width="0.55"/>
<line x1="308.84" y1="429.8" x2="308.84" y2="430.7" stroke="#999" stroke-width="0.55"/>
<line x1="313.82" y1="429.8" x2="313.82" y2="430.7" stroke="#999" stroke-width="0.55"/>
<line x1="318.81" y1="429.8" x2="318.81" y2="430.7" stroke="#999" stroke-width="0.55"/>
<line x1="323.80" y1="429.8" x2="323.80" y2="430.7" stroke="#999" stroke-width="0.55"/>
<line x1="328.79" y1="429.8" x2="328.79" y2="430.7" stroke="#999" stroke-width="0.55"/>
<line x1="333.77" y1="429.8" x2="333.77" y2="430.7" stroke="#999" stroke-width="0.55"/>
<line x1="338.76" y1="429.8" x2="338.76" y2="430.7" stroke="#999" stroke-width="0.55"/>
<line x1="343.75" y1="429.8" x2="343.75" y2="430.7" stroke="#999" stroke-width="0.55"/>
<line x1="348.74" y1="429.8" x2="348.74" y2="430.7" stroke="#999" stroke-width="0.55"/>
<line x1="353.73" y1="429.8" x2="353.73" y2="430.7" stroke="#999" stroke-width="0.55"/>
<line x1="358.71" y1="429.8" x2="358.71" y2="430.7" stroke="#999" stroke-width="0.55"/>
<line x1="363.70" y1="429.8" x2="363.70" y2="430.7" stroke="#999" stroke-width="0.55"/>
<line x1="368.69" y1="429.8" x2="368.69" y2="430.7" stroke="#999" stroke-width="0.55"/>
<line x1="373.67" y1="429.8" x2="373.67" y2="430.7" stroke="#999" stroke-width="0.55"/>
<line x1="378.66" y1="429.8" x2="378.66" y2="430.7" stroke="#999" stroke-width="0.55"/>
<line x1="383.65" y1="429.8" x2="383.65" y2="430.7" stroke="#999" stroke-width="0.55"/>
<line x1="388.64" y1="429.8" x2="388.64" y2="430.7" stroke="#999" stroke-width="0.55"/>
<line x1="393.62" y1="429.8" x2="393.62" y2="430.7" stroke="#999" stroke-width="0.55"/>
<line x1="398.61" y1="429.8" x2="398.61" y2="430.7" stroke="#999" stroke-width="0.55"/>
<text transform="translate(224.7,388.6) rotate(-90)" text-anchor="middle" class="mv">MV</text>
<text transform="translate(323.6,442.1) scale(0.88,1)" text-anchor="middle" class="mn">Minutes</text>
<line x1="298" y1="427.0" x2="384" y2="427.0" stroke="#f88" stroke-width="0.45"/>
<line x1="310.6" y1="416.86" x2="310.6" y2="427.4" stroke="#f77" stroke-width="0.45"/>
<line x1="373.4" y1="423.4" x2="373.4" y2="427.9" stroke="#888" stroke-width="0.45"/>
<path d="M310.60,416.86 L310.85,416.62 L311.10,416.31 L311.35,415.93 L311.60,415.49 L311.85,415.00 L312.10,414.46 L312.35,413.87 L312.60,413.25 L312.85,412.60 L313.10,411.92 L313.35,411.23 L313.60,410.52 L313.85,409.80 L314.10,409.07 L314.35,408.35 L314.60,407.64 L314.85,406.94 L315.10,406.26 L315.35,405.61 L315.60,405.00 L315.85,404.43 L316.10,403.91 L316.35,403.46 L316.60,403.09 L316.85,402.82 L317.10,402.72 L317.35,402.92 L317.60,403.27 L317.85,403.73 L318.10,404.27 L318.35,404.89 L318.60,405.55 L318.85,406.27 L319.10,407.02 L319.35,407.79 L319.60,408.58 L319.85,409.39 L320.10,410.20 L320.35,411.00 L320.60,411.81 L320.85,412.60 L321.10,413.38 L321.35,414.14 L321.60,414.88 L321.85,415.59 L322.10,416.27 L322.35,416.89 L322.60,417.43 L322.85,417.87 L323.10,418.17 L323.35,418.32 L323.60,418.34 L323.85,418.32 L324.10,418.34 L324.35,418.53 L324.60,418.92 L324.85,419.36 L325.10,419.83 L325.35,420.32 L325.60,420.82 L325.85,421.32 L326.10,421.82 L326.35,422.29 L326.60,422.73 L326.85,423.11 L327.10,423.38 L327.35,423.51 L327.60,423.43 L327.85,423.10 L328.10,422.54 L328.35,421.83 L328.60,421.12 L328.85,420.63 L329.10,420.53 L329.35,420.69 L329.60,420.95 L329.85,421.30 L330.10,421.71 L330.35,422.16 L330.60,422.64 L330.85,423.13 L331.10,423.59 L331.35,424.01 L331.60,424.38 L331.85,424.69 L332.10,424.92 L332.35,425.08 L332.60,425.16 L332.85,425.16 L333.10,425.09 L333.35,424.95 L333.60,424.74 L333.85,424.45 L334.10,424.11 L334.35,423.70 L334.60,423.23 L334.85,422.70 L335.10,422.13 L335.35,421.53 L335.60,420.89 L335.85,420.25 L336.10,419.60 L336.35,418.98 L336.60,418.39 L336.85,417.86 L337.10,417.39 L337.35,417.01 L337.60,416.73 L337.85,416.56 L338.10,416.50 L338.35,416.55 L338.60,416.67 L338.85,416.88 L339.10,417.16 L339.35,417.51 L339.60,417.92 L339.85,418.38 L340.10,418.88 L340.35,419.41 L340.60,419.96 L340.85,420.51 L341.10,421.06 L341.35,421.61 L341.60,422.13 L341.85,422.63 L342.10,423.10 L342.35,423.53 L342.60,423.93 L342.85,424.30 L343.10,424.62 L343.35,424.91 L343.60,425.16 L343.85,425.38 L344.10,425.56 L344.35,425.72 L344.60,425.85 L344.85,425.96 L345.10,426.05 L345.35,426.12 L345.60,426.18 L345.85,426.22 L346.10,426.24 L346.35,426.25 L346.60,426.24 L346.85,426.21 L347.10,426.15 L347.35,426.06 L347.60,425.93 L347.85,425.76 L348.10,425.54 L348.35,425.28 L348.60,424.97 L348.85,424.62 L349.10,424.25 L349.35,423.86 L349.60,423.49 L349.85,423.16 L350.10,422.89 L350.35,422.70 L350.60,422.61 L350.85,422.61 L351.10,422.65 L351.35,422.73 L351.60,422.84 L351.85,422.99 L352.10,423.16 L352.35,423.36 L352.60,423.57 L352.85,423.80 L353.10,424.03 L353.35,424.26 L353.60,424.49 L353.85,424.71 L354.10,424.93 L354.35,425.12 L354.60,425.31 L354.85,425.47 L355.10,425.62 L355.35,425.75 L355.60,425.87 L355.85,425.97 L356.10,426.05 L356.35,426.12 L356.60,426.18 L356.85,426.23 L357.10,426.27 L357.35,426.30 L357.60,426.32 L357.85,426.34" fill="none" stroke="#555" stroke-width="0.6"/>
<path d="M298.00,426.34 L298.25,426.33 L298.50,426.31 L298.75,426.27 L299.00,426.22 L299.25,426.15 L299.50,426.03 L299.75,425.86 L300.00,425.59 L300.25,425.18 L300.50,424.58 L300.75,423.69 L301.00,422.41 L301.25,420.59 L301.50,418.07 L301.75,414.66 L302.00,410.22 L302.25,404.61 L302.50,397.83 L302.75,390.01 L303.00,381.46 L303.25,372.66 L303.50,364.28 L303.75,357.05 L304.00,351.69 L304.25,348.77 L304.50,348.47 L304.75,350.36 L305.00,354.20 L305.25,359.61 L305.50,366.10 L305.75,373.12 L306.00,380.19 L306.25,386.87 L306.50,392.89 L306.75,398.09 L307.00,402.41 L307.25,405.91 L307.50,408.68 L307.75,410.83 L308.00,412.50 L308.25,413.79 L308.50,414.78 L308.75,415.54 L309.00,416.12 L309.25,416.54 L309.50,416.84 L309.75,417.01 L310.00,417.08 L310.25,417.05 L310.50,416.93" fill="none" stroke="#f55" stroke-width="0.5"/>
<path d="M296.50,428.70 L298.00,426.10 L299.50,428.70 Z" fill="none" stroke="#f55" stroke-width="0.55"/>
<circle cx="310.7" cy="427.60" r="1.4" fill="none" stroke="#f55" stroke-width="0.55"/>
<circle cx="327" cy="427.60" r="1.4" fill="none" stroke="#f55" stroke-width="0.55"/>
<circle cx="333.8" cy="427.60" r="1.4" fill="none" stroke="#f55" stroke-width="0.55"/>
<circle cx="345.4" cy="427.60" r="1.4" fill="none" stroke="#f55" stroke-width="0.55"/>
<circle cx="366.2" cy="427.60" r="1.4" fill="none" stroke="#f55" stroke-width="0.55"/>
<path d="M379.90,428.70 L381.40,426.10 L382.90,428.70 Z" fill="none" stroke="#f55" stroke-width="0.55"/>
<text transform="translate(306.70,360.10) rotate(-90)" text-anchor="middle" class="pl">6.006</text>
<text transform="translate(319.20,394.25) rotate(-90)" text-anchor="middle" class="pl">7.390</text>
<text transform="translate(330.80,411.65) rotate(-90)" text-anchor="middle" class="pl">8.570</text>
<text transform="translate(340.10,408.20) rotate(-90)" text-anchor="middle" class="pl">9.433</text>
<text transform="translate(352.70,412.10) rotate(-90)" text-anchor="middle" class="pl">10.691</text>
<text transform="translate(375.40,415.70) rotate(-90)" text-anchor="middle" class="pl">12.911</text>
<text x="353.9" y="363.8" class="de" style="font-size:7.4px" textLength="22.1" lengthAdjust="spacingAndGlyphs">DE&#160;&#160;&#160;28</text>
<path d="M133.6,459.7 L295.8,459.7 L295.8,535.0" fill="none" stroke="#d2d2d2" stroke-width="0.9"/>
<path d="M133.6,459.7 L133.6,535.0 L295.8,535.0" fill="none" stroke="#bdbdbd" stroke-width="0.8"/>
<line x1="133.6" y1="531.5" x2="295.8" y2="531.5" stroke="#d0d0d0" stroke-width="1.1"/>
<line x1="132.0" y1="531.50" x2="133.6" y2="531.50" stroke="#999" stroke-width="0.6"/>
<text transform="translate(131.40,533.60) scale(0.88,1)" text-anchor="end" class="tk">0.00</text>
<line x1="132.0" y1="516.50" x2="133.6" y2="516.50" stroke="#999" stroke-width="0.6"/>
<text transform="translate(131.40,518.60) scale(0.88,1)" text-anchor="end" class="tk">50.00</text>
<line x1="132.0" y1="501.50" x2="133.6" y2="501.50" stroke="#999" stroke-width="0.6"/>
<text transform="translate(131.40,503.60) scale(0.88,1)" text-anchor="end" class="tk">100.00</text>
<line x1="132.0" y1="486.50" x2="133.6" y2="486.50" stroke="#999" stroke-width="0.6"/>
<text transform="translate(131.40,488.60) scale(0.88,1)" text-anchor="end" class="tk">150.00</text>
<line x1="132.0" y1="471.50" x2="133.6" y2="471.50" stroke="#999" stroke-width="0.6"/>
<text transform="translate(131.40,473.60) scale(0.88,1)" text-anchor="end" class="tk">200.00</text>
<line x1="132.5" y1="531.50" x2="133.6" y2="531.50" stroke="#999" stroke-width="0.55"/>
<line x1="132.5" y1="528.50" x2="133.6" y2="528.50" stroke="#999" stroke-width="0.55"/>
<line x1="132.5" y1="525.50" x2="133.6" y2="525.50" stroke="#999" stroke-width="0.55"/>
<line x1="132.5" y1="522.50" x2="133.6" y2="522.50" stroke="#999" stroke-width="0.55"/>
<line x1="132.5" y1="519.50" x2="133.6" y2="519.50" stroke="#999" stroke-width="0.55"/>
<line x1="132.5" y1="516.50" x2="133.6" y2="516.50" stroke="#999" stroke-width="0.55"/>
<line x1="132.5" y1="513.50" x2="133.6" y2="513.50" stroke="#999" stroke-width="0.55"/>
<line x1="132.5" y1="510.50" x2="133.6" y2="510.50" stroke="#999" stroke-width="0.55"/>
<line x1="132.5" y1="507.50" x2="133.6" y2="507.50" stroke="#999" stroke-width="0.55"/>
<line x1="132.5" y1="504.50" x2="133.6" y2="504.50" stroke="#999" stroke-width="0.55"/>
<line x1="132.5" y1="501.50" x2="133.6" y2="501.50" stroke="#999" stroke-width="0.55"/>
<line x1="132.5" y1="498.50" x2="133.6" y2="498.50" stroke="#999" stroke-width="0.55"/>
<line x1="132.5" y1="495.50" x2="133.6" y2="495.50" stroke="#999" stroke-width="0.55"/>
<line x1="132.5" y1="492.50" x2="133.6" y2="492.50" stroke="#999" stroke-width="0.55"/>
<line x1="132.5" y1="489.50" x2="133.6" y2="489.50" stroke="#999" stroke-width="0.55"/>
<line x1="132.5" y1="486.50" x2="133.6" y2="486.50" stroke="#999" stroke-width="0.55"/>
<line x1="132.5" y1="483.50" x2="133.6" y2="483.50" stroke="#999" stroke-width="0.55"/>
<line x1="132.5" y1="480.50" x2="133.6" y2="480.50" stroke="#999" stroke-width="0.55"/>
<line x1="132.5" y1="477.50" x2="133.6" y2="477.50" stroke="#999" stroke-width="0.55"/>
<line x1="132.5" y1="474.50" x2="133.6" y2="474.50" stroke="#999" stroke-width="0.55"/>
<line x1="132.5" y1="471.50" x2="133.6" y2="471.50" stroke="#999" stroke-width="0.55"/>
<line x1="132.5" y1="468.50" x2="133.6" y2="468.50" stroke="#999" stroke-width="0.55"/>
<line x1="132.5" y1="465.50" x2="133.6" y2="465.50" stroke="#999" stroke-width="0.55"/>
<line x1="132.5" y1="462.50" x2="133.6" y2="462.50" stroke="#999" stroke-width="0.55"/>
<line x1="165.64" y1="535.0" x2="165.64" y2="536.6" stroke="#999" stroke-width="0.6"/>
<text transform="translate(165.64,541.80) scale(0.85,1)" text-anchor="middle" class="tk">2.00</text>
<line x1="198.18" y1="535.0" x2="198.18" y2="536.6" stroke="#999" stroke-width="0.6"/>
<text transform="translate(198.18,541.80) scale(0.85,1)" text-anchor="middle" class="tk">4.00</text>
<line x1="230.72" y1="535.0" x2="230.72" y2="536.6" stroke="#999" stroke-width="0.6"/>
<text transform="translate(230.72,541.80) scale(0.85,1)" text-anchor="middle" class="tk">6.00</text>
<line x1="263.26" y1="535.0" x2="263.26" y2="536.6" stroke="#999" stroke-width="0.6"/>
<text transform="translate(263.26,541.80) scale(0.85,1)" text-anchor="middle" class="tk">8.00</text>
<line x1="295.80" y1="535.0" x2="295.80" y2="536.6" stroke="#999" stroke-width="0.6"/>
<text transform="translate(295.80,541.80) scale(0.85,1)" text-anchor="middle" class="tk">10.00</text>
<line x1="141.23" y1="535.0" x2="141.23" y2="535.9" stroke="#999" stroke-width="0.55"/>
<line x1="149.37" y1="535.0" x2="149.37" y2="535.9" stroke="#999" stroke-width="0.55"/>
<line x1="157.50" y1="535.0" x2="157.50" y2="535.9" stroke="#999" stroke-width="0.55"/>
<line x1="165.64" y1="535.0" x2="165.64" y2="535.9" stroke="#999" stroke-width="0.55"/>
<line x1="173.77" y1="535.0" x2="173.77" y2="535.9" stroke="#999" stroke-width="0.55"/>
<line x1="181.91" y1="535.0" x2="181.91" y2="535.9" stroke="#999" stroke-width="0.55"/>
<line x1="190.04" y1="535.0" x2="190.04" y2="535.9" stroke="#999" stroke-width="0.55"/>
<line x1="198.18" y1="535.0" x2="198.18" y2="535.9" stroke="#999" stroke-width="0.55"/>
<line x1="206.31" y1="535.0" x2="206.31" y2="535.9" stroke="#999" stroke-width="0.55"/>
<line x1="214.45" y1="535.0" x2="214.45" y2="535.9" stroke="#999" stroke-width="0.55"/>
<line x1="222.58" y1="535.0" x2="222.58" y2="535.9" stroke="#999" stroke-width="0.55"/>
<line x1="230.72" y1="535.0" x2="230.72" y2="535.9" stroke="#999" stroke-width="0.55"/>
<line x1="238.85" y1="535.0" x2="238.85" y2="535.9" stroke="#999" stroke-width="0.55"/>
<line x1="246.99" y1="535.0" x2="246.99" y2="535.9" stroke="#999" stroke-width="0.55"/>
<line x1="255.12" y1="535.0" x2="255.12" y2="535.9" stroke="#999" stroke-width="0.55"/>
<line x1="263.26" y1="535.0" x2="263.26" y2="535.9" stroke="#999" stroke-width="0.55"/>
<line x1="271.39" y1="535.0" x2="271.39" y2="535.9" stroke="#999" stroke-width="0.55"/>
<line x1="279.53" y1="535.0" x2="279.53" y2="535.9" stroke="#999" stroke-width="0.55"/>
<line x1="287.66" y1="535.0" x2="287.66" y2="535.9" stroke="#999" stroke-width="0.55"/>
<line x1="295.80" y1="535.0" x2="295.80" y2="535.9" stroke="#999" stroke-width="0.55"/>
<text transform="translate(115.5,497) rotate(-90)" text-anchor="middle" class="mv">MV</text>
<text transform="translate(214.3,547.0) scale(0.88,1)" text-anchor="middle" class="mn">Minutes</text>
<line x1="203" y1="532.1" x2="280" y2="532.1" stroke="#f88" stroke-width="0.45"/>
<line x1="270.7" y1="528.5" x2="270.7" y2="533.0" stroke="#888" stroke-width="0.45"/>
<path d="M172.00,531.50 L172.25,531.50 L172.50,531.50 L172.75,531.50 L173.00,531.50 L173.25,531.50 L173.50,531.50 L173.75,531.50 L174.00,531.50 L174.25,531.50 L174.50,531.50 L174.75,531.50 L175.00,531.50 L175.25,531.50 L175.50,531.50 L175.75,531.50 L176.00,531.50 L176.25,531.50 L176.50,531.50 L176.75,531.50 L177.00,531.49 L177.25,531.49 L177.50,531.47 L177.75,531.45 L178.00,531.42 L178.25,531.37 L178.50,531.29 L178.75,531.18 L179.00,531.03 L179.25,530.83 L179.50,530.58 L179.75,530.29 L180.00,529.96 L180.25,529.61 L180.50,529.27 L180.75,528.97 L181.00,528.72 L181.25,528.57 L181.50,528.52 L181.75,528.59 L182.00,528.77 L182.25,529.04 L182.50,529.38 L182.75,529.76 L183.00,530.16 L183.25,530.55 L183.50,530.91 L183.75,531.23 L184.00,531.51 L184.25,531.75 L184.50,531.93 L184.75,532.07 L185.00,532.18 L185.25,532.24 L185.50,532.27 L185.75,532.28 L186.00,532.27 L186.25,532.24 L186.50,532.20 L186.75,532.16 L187.00,532.10 L187.25,532.05 L187.50,531.99 L187.75,531.92 L188.00,531.87 L188.25,531.81 L188.50,531.76 L188.75,531.71 L189.00,531.67 L189.25,531.64 L189.50,531.61 L189.75,531.58 L190.00,531.56 L190.25,531.55 L190.50,531.54 L190.75,531.53 L191.00,531.52 L191.25,531.51 L191.50,531.51 L191.75,531.51 L192.00,531.50 L192.25,531.50 L192.50,531.50 L192.75,531.50 L193.00,531.50 L193.25,531.50 L193.50,531.50 L193.75,531.50 L194.00,531.50 L194.25,531.50 L194.50,531.50 L194.75,531.50 L195.00,531.50 L195.25,531.50 L195.50,531.50 L195.75,531.50 L196.00,531.50 L196.25,531.50 L196.50,531.50 L196.75,531.50 L197.00,531.50 L197.25,531.50 L197.50,531.50 L197.75,531.50 L198.00,531.50 L198.25,531.50 L198.50,531.50 L198.75,531.50 L199.00,531.49 L199.25,531.49 L199.50,531.49 L199.75,531.49 L200.00,531.49 L200.25,531.49 L200.50,531.49 L200.75,531.49 L201.00,531.48 L201.25,531.48 L201.50,531.47 L201.75,531.46 L202.00,531.45 L202.25,531.43 L202.50,531.40 L202.75,531.37 L203.00,531.32" fill="none" stroke="#666" stroke-width="0.55"/>
<path d="M211.60,529.97 L211.85,529.55 L212.10,528.70 L212.35,527.28 L212.60,525.16 L212.85,522.25 L213.10,518.61 L213.35,514.42 L213.60,510.04 L213.85,505.98 L214.10,502.79 L214.35,500.95 L214.60,500.71 L214.85,501.49 L215.10,503.11 L215.35,505.40 L215.60,508.20 L215.85,511.28 L216.10,514.44 L216.35,517.50 L216.60,520.31 L216.85,522.78 L217.10,524.85 L217.35,526.52 L217.60,527.81 L217.85,528.78 L218.10,529.48 L218.35,529.96 L218.60,530.27 L218.85,530.47 L219.10,530.59 L219.35,530.65 L219.60,530.68 L219.85,530.69 L220.10,530.69 L220.35,530.67 L220.60,530.65 L220.85,530.63 L221.10,530.61 L221.35,530.58 L221.60,530.54 L221.85,530.48 L222.10,530.39 L222.35,530.23 L222.60,529.94 L222.85,529.46 L223.10,528.65 L223.35,527.36 L223.60,525.39 L223.85,522.52 L224.10,518.54 L224.35,513.30 L224.60,506.77 L224.85,499.10 L225.10,490.64 L225.35,481.97 L225.60,473.83 L225.85,467.04 L226.10,462.35 L226.35,460.50 L226.60,460.86 L226.85,463.32 L227.10,467.45 L227.35,472.94 L227.60,479.39 L227.85,486.34 L228.10,493.38 L228.35,500.13 L228.60,506.32 L228.85,511.76 L229.10,516.35 L229.35,520.08 L229.60,523.01 L229.85,525.23 L230.10,526.86 L230.35,528.02 L230.60,528.82 L230.85,529.36 L231.10,529.70 L231.35,529.92 L231.60,530.06 L231.85,530.14 L232.10,530.19 L232.35,530.22 L232.60,530.24 L232.85,530.25 L233.10,530.25 L233.35,530.24 L233.60,530.21 L233.85,530.14 L234.10,530.03 L234.35,529.82 L234.60,529.49 L234.85,528.97 L235.10,528.19 L235.35,527.06 L235.60,525.49 L235.85,523.41 L236.10,520.76 L236.35,517.53 L236.60,513.77 L236.85,509.62 L237.10,505.28 L237.35,501.03 L237.60,497.19 L237.85,494.07 L238.10,491.96 L238.35,491.07 L238.60,491.38 L238.85,492.70 L239.10,494.92 L239.35,497.87 L239.60,501.35 L239.85,505.13 L240.10,509.01 L240.35,512.77 L240.60,516.26 L240.85,519.38 L241.10,522.05 L241.35,524.28 L241.60,526.06 L241.85,527.45 L242.10,528.50 L242.35,529.26 L242.60,529.81 L242.85,530.19 L243.10,530.45 L243.35,530.62 L243.60,530.74 L243.85,530.81 L244.10,530.87 L244.35,530.90 L244.60,530.93 L244.85,530.95 L245.10,530.97 L245.35,530.98 L245.60,531.00 L245.85,531.01 L246.10,531.03 L246.35,531.04 L246.60,531.05 L246.85,531.06 L247.10,531.06 L247.35,531.06 L247.60,531.05 L247.85,531.03 L248.10,531.00 L248.35,530.94 L248.60,530.85 L248.85,530.72 L249.10,530.55 L249.35,530.33 L249.60,530.04 L249.85,529.69 L250.10,529.28 L250.35,528.80 L250.60,528.28 L250.85,527.73 L251.10,527.17 L251.35,526.64 L251.60,526.16 L251.85,525.76 L252.10,525.48 L252.35,525.33 L252.60,525.32 L252.85,525.42 L253.10,525.62 L253.35,525.91 L253.60,526.27 L253.85,526.69 L254.10,527.15 L254.35,527.63 L254.60,528.11 L254.85,528.58 L255.10,529.03 L255.35,529.44 L255.60,529.80 L255.85,530.13 L256.10,530.40 L256.35,530.63 L256.60,530.82 L256.85,530.98 L257.10,531.10 L257.35,531.19 L257.60,531.26 L257.85,531.31 L258.10,531.35 L258.35,531.38 L258.60,531.40 L258.85,531.42 L259.10,531.43 L259.35,531.44 L259.60,531.44 L259.85,531.45 L260.10,531.45 L260.35,531.46 L260.60,531.46 L260.85,531.46 L261.10,531.46 L261.35,531.47 L261.60,531.47 L261.85,531.47 L262.10,531.47 L262.35,531.47 L262.60,531.47 L262.85,531.48 L263.10,531.48 L263.35,531.48 L263.60,531.48 L263.85,531.48 L264.10,531.48 L264.35,531.48 L264.60,531.48 L264.85,531.48 L265.10,531.49 L265.35,531.49 L265.60,531.49 L265.85,531.49 L266.10,531.48 L266.35,531.48 L266.60,531.48 L266.85,531.47 L267.10,531.46 L267.35,531.45 L267.60,531.43 L267.85,531.41 L268.10,531.38 L268.35,531.35 L268.60,531.31 L268.85,531.26 L269.10,531.21 L269.35,531.16 L269.60,531.11 L269.85,531.07 L270.10,531.03 L270.35,531.01 L270.60,531.00 L270.85,531.00 L271.10,531.01 L271.35,531.04 L271.60,531.08 L271.85,531.13 L272.10,531.17 L272.35,531.23 L272.60,531.27 L272.85,531.32 L273.10,531.36 L273.35,531.39 L273.60,531.42 L273.85,531.44 L274.10,531.46 L274.35,531.47 L274.60,531.48 L274.85,531.49" fill="none" stroke="#666" stroke-width="0.55"/>
<path d="M203.00,531.32 L203.25,531.25 L203.50,531.16 L203.75,531.04 L204.00,530.89 L204.25,530.68 L204.50,530.42 L204.75,530.09 L205.00,529.68 L205.25,529.17 L205.50,528.57 L205.75,527.85 L206.00,527.02 L206.25,526.08 L206.50,525.04 L206.75,523.94 L207.00,522.80 L207.25,521.68 L207.50,520.66 L207.75,519.84 L208.00,519.41 L208.25,519.89 L208.50,520.79 L208.75,521.92 L209.00,523.13 L209.25,524.35 L209.50,525.50 L209.75,526.56 L210.00,527.49 L210.25,528.28 L210.50,528.94 L210.75,529.46 L211.00,529.83 L211.25,530.04 L211.50,530.04" fill="none" stroke="#f55" stroke-width="0.5"/>
<path d="M201.50,533.80 L203.00,531.20 L204.50,533.80 Z" fill="none" stroke="#f55" stroke-width="0.55"/>
<circle cx="211.2" cy="532.70" r="1.4" fill="none" stroke="#f55" stroke-width="0.55"/>
<circle cx="221.8" cy="532.70" r="1.4" fill="none" stroke="#f55" stroke-width="0.55"/>
<circle cx="233.8" cy="532.70" r="1.4" fill="none" stroke="#f55" stroke-width="0.55"/>
<circle cx="247.9" cy="532.70" r="1.4" fill="none" stroke="#f55" stroke-width="0.55"/>
<circle cx="263.8" cy="532.70" r="1.4" fill="none" stroke="#f55" stroke-width="0.55"/>
<path d="M275.30,533.80 L276.80,531.20 L278.30,533.80 Z" fill="none" stroke="#f55" stroke-width="0.55"/>
<text transform="translate(210.30,511.40) rotate(-90)" text-anchor="middle" class="pl">4.639</text>
<text transform="translate(216.30,492.70) rotate(-90)" text-anchor="middle" class="pl">4.996</text>
<text transform="translate(228.50,471.40) rotate(-90)" text-anchor="middle" class="pl">5.798</text>
<text transform="translate(240.50,484.85) rotate(-90)" text-anchor="middle" class="pl">6.490</text>
<text transform="translate(254.00,517.80) rotate(-90)" text-anchor="middle" class="pl">7.355</text>
<text transform="translate(272.70,523.10) rotate(-90)" text-anchor="middle" class="pl">8.422</text>
<text x="138.6" y="472.9" class="sp" style="font-size:7.2px" textLength="65.2" lengthAdjust="spacingAndGlyphs">The standards profile</text>
</svg>
</body></html>
